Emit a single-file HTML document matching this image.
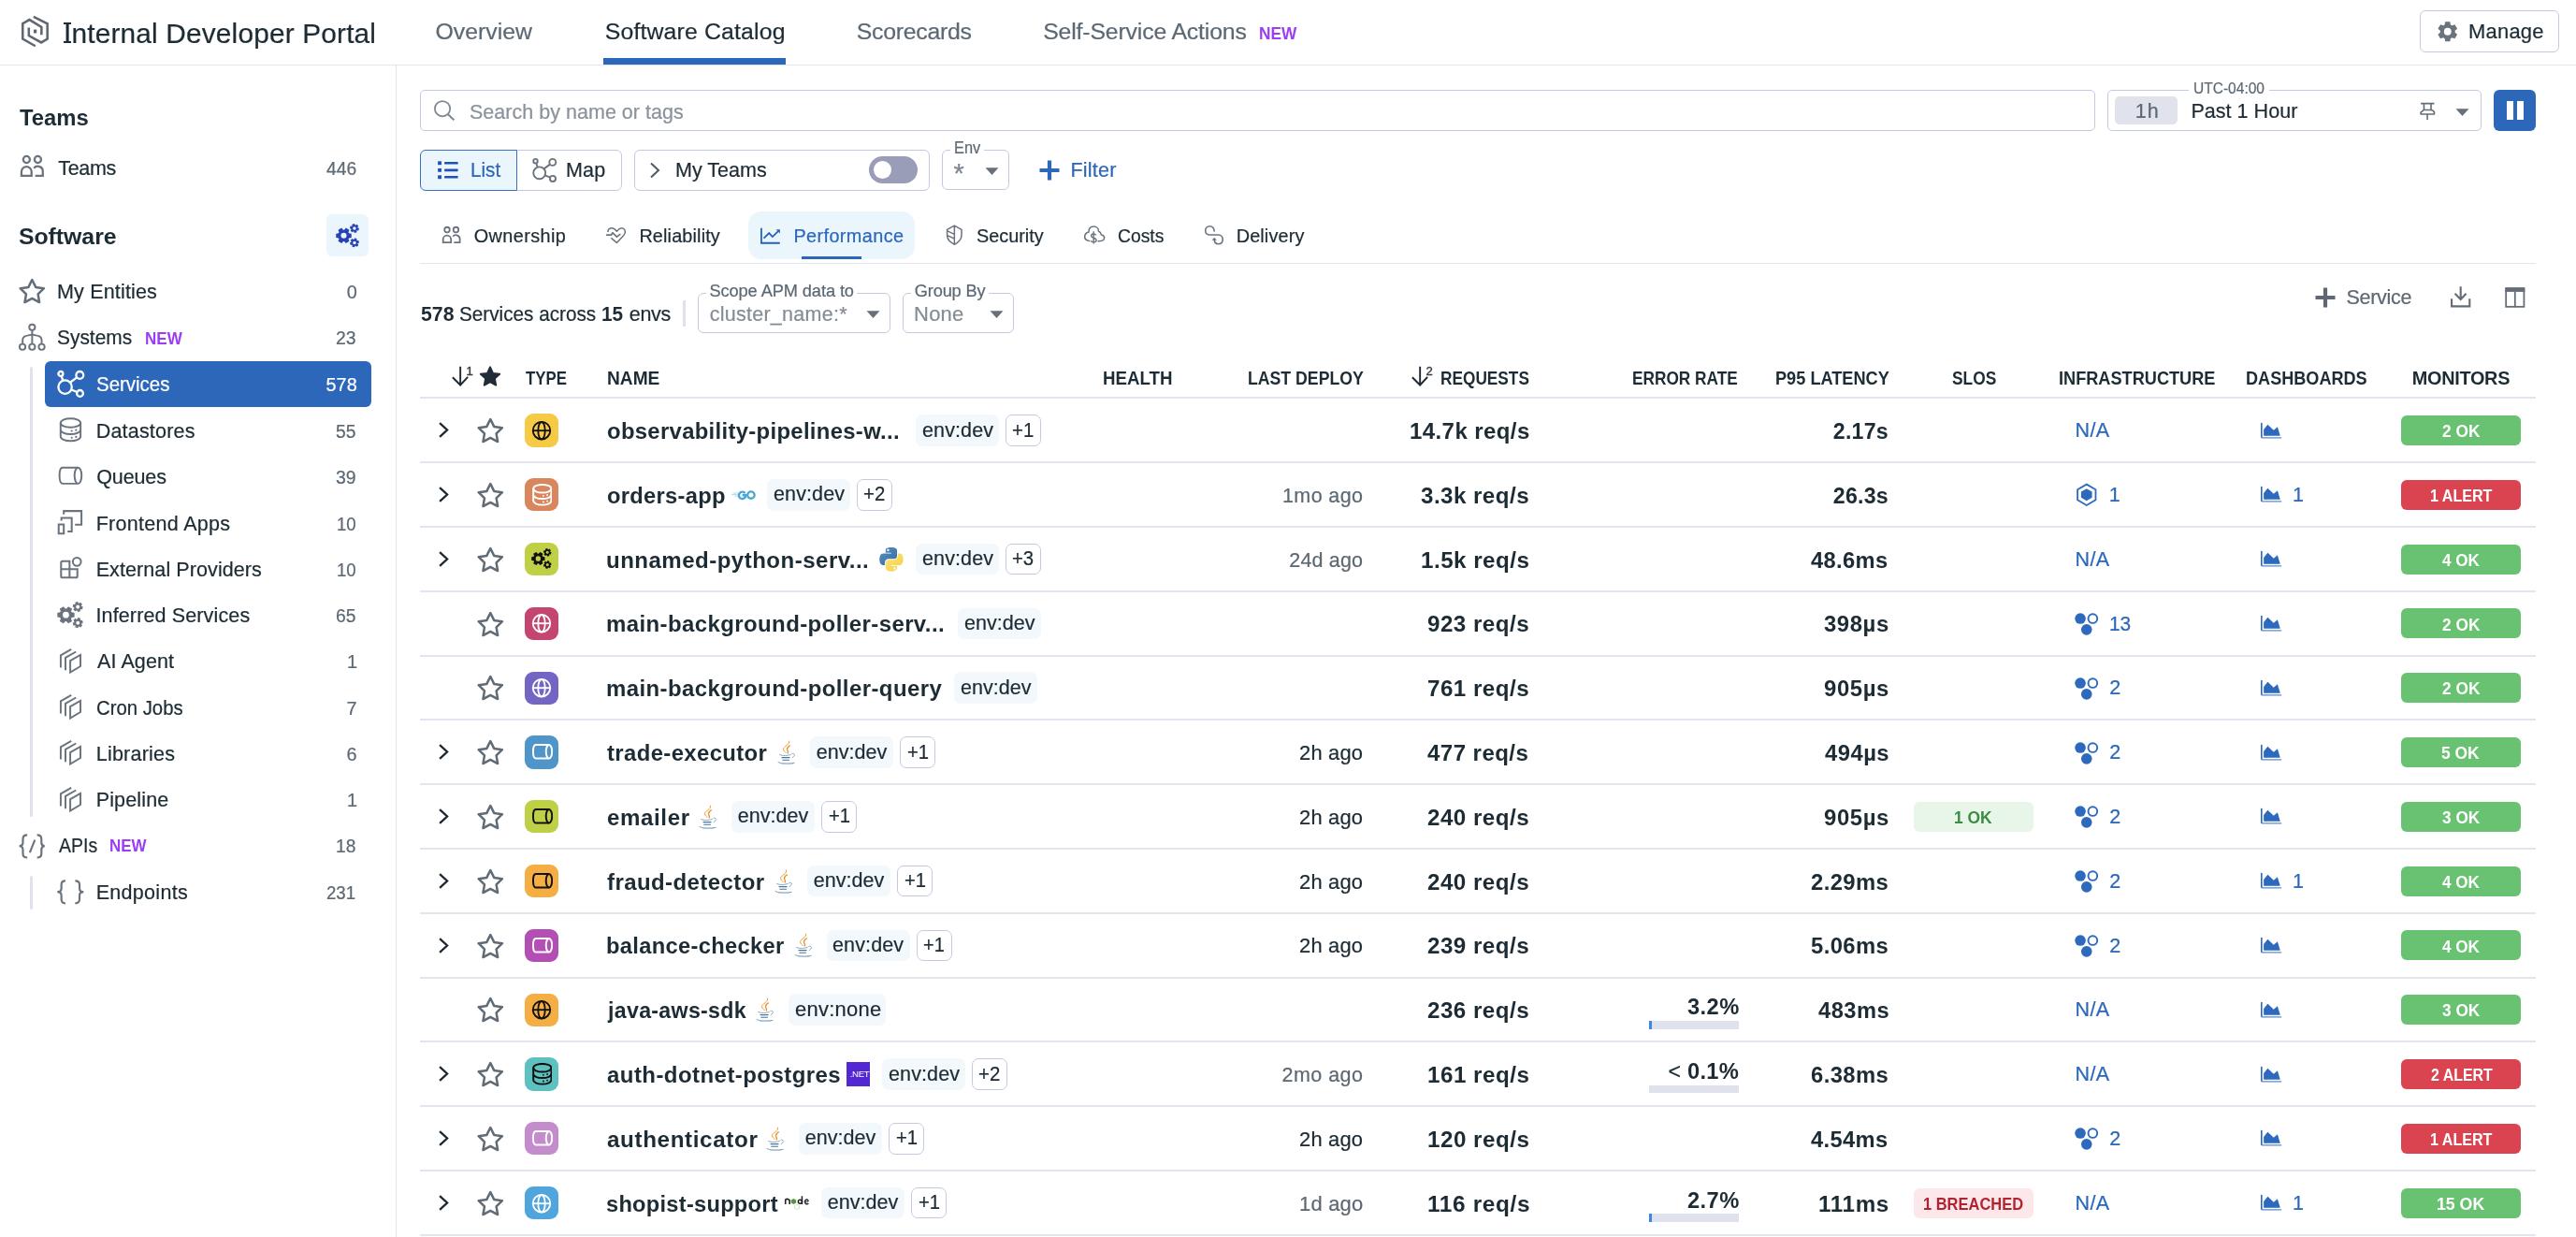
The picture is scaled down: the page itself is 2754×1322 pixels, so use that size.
<!DOCTYPE html>
<html><head><meta charset="utf-8"><title>Software Catalog</title>
<style>
html,body{margin:0;padding:0;background:#fff;}
body{width:2754px;height:1322px;position:relative;overflow:hidden;font-family:"Liberation Sans",sans-serif;}
#app{position:absolute;left:0;top:0;width:2754px;height:1322px;will-change:transform;}
#app>div,#app>span,#app>svg{position:absolute;box-sizing:border-box;}
#app>span{white-space:pre;}
</style></head><body><div id="app">
<div style="left:0px;top:69px;width:2754px;height:1px;background:#e2e4ee"></div>
<div style="left:423px;top:70px;width:1px;height:1252px;background:#e2e4ee"></div>
<svg style="left:14px;top:8px" width="60" height="54" viewBox="0 0 1374 1237"><path d="M500,228L840,398V770L690,858L385,690V495" fill="none" stroke="#5f6872" stroke-width="58" /><path d="M545,945L235,770V395L400,300L695,480V670" fill="none" stroke="#5f6872" stroke-width="58" /><path d="M540,540V628" fill="none" stroke="#5f6872" stroke-width="75" /></svg>
<div style="left:68.2px;top:24.3px;width:7.7px;height:2.0px;background:#1c2b34"></div>
<div style="left:68.2px;top:43.5px;width:7.7px;height:2.0px;background:#1c2b34"></div>
<div style="left:645px;top:62px;width:195px;height:7px;background:#2d67ba"></div>
<div style="left:2587px;top:11px;width:149px;height:45px;border:1px solid #c4c9df;border-radius:6px"></div>
<svg style="left:2606px;top:23px" width="21.5" height="21.5" viewBox="0 0 21.5 21.5"><path d="M7.56,3.46L8.13,0.32L13.37,0.32L13.94,3.46A7.96,7.96 0 0 1 15.47,4.34L18.47,3.27L21.09,7.81L18.66,9.87A7.96,7.96 0 0 1 18.66,11.63L21.09,13.69L18.47,18.23L15.47,17.16A7.96,7.96 0 0 1 13.94,18.04L13.37,21.18L8.13,21.18L7.56,18.04A7.96,7.96 0 0 1 6.03,17.16L3.03,18.23L0.41,13.69L2.84,11.63A7.96,7.96 0 0 1 2.84,9.87L0.41,7.81L3.03,3.27L6.03,4.34A7.96,7.96 0 0 1 7.56,3.46ZM14.67,10.75A3.92,3.92 0 1 0 6.83,10.75A3.92,3.92 0 1 0 14.67,10.75Z" fill="#6b747e" fill-rule="evenodd"/></svg>
<div style="left:449px;top:96px;width:1791px;height:44px;border:1px solid #c4c9df;border-radius:5px"></div>
<svg style="left:455px;top:100px" width="60" height="36" viewBox="0 0 2062 1237"><circle cx="620" cy="555" r="280" fill="none" stroke="#7f8791" stroke-width="60"/><path d="M825,765L1045,970" fill="none" stroke="#7f8791" stroke-width="70" /></svg>
<div style="left:2253px;top:96px;width:400px;height:44px;border:1px solid #c4c9df;border-radius:5px"></div>
<div style="left:2340px;top:88px;width:86px;height:14px;background:#fff"></div>
<div style="left:2261px;top:103px;width:67px;height:30px;background:#e0e2ec;border-radius:5px"></div>
<svg style="left:2575px;top:100px" width="75" height="36" viewBox="0 0 2576 1236"><path d="M450,365H945M565,365V600M825,365V600M565,600L450,690V755H945V690Q930,620 825,600ZM690,755V965" fill="none" stroke="#646d77" stroke-width="55" stroke-linejoin="round"/></svg>
<svg style="left:2624.5px;top:115.5px" width="15" height="8.5" viewBox="0 0 15 8.5"><path d="M0.5 0.3h14L7.5 8z" fill="#68717b"/></svg>
<div style="left:2666px;top:96px;width:45px;height:44px;background:#2d67ba;border-radius:6px"></div>
<div style="left:2680px;top:108px;width:6.5px;height:19.5px;background:#fff"></div>
<div style="left:2691px;top:108px;width:6.5px;height:19.5px;background:#fff"></div>
<div style="left:552px;top:160px;width:113px;height:44px;border:1px solid #c4c9df;border-radius:0 6px 6px 0"></div>
<div style="left:449px;top:160px;width:104px;height:44px;border:1px solid #3a6ec2;background:#eaf5fc;border-radius:6px 0 0 6px"></div>
<svg style="left:455px;top:160px" width="150" height="44" viewBox="0 0 2576 756"><rect x="225" y="212" width="66" height="66" fill="#2050b5"/><rect x="345" y="222" width="250" height="46" rx="10" fill="#2050b5"/><rect x="225" y="342" width="66" height="66" fill="#2050b5"/><rect x="345" y="352" width="250" height="46" rx="10" fill="#2050b5"/><rect x="225" y="470" width="66" height="66" fill="#2050b5"/><rect x="345" y="480" width="250" height="46" rx="10" fill="#2050b5"/></svg>
<svg style="left:567.5px;top:167.5px" width="28" height="28" viewBox="-1.12 -1.12 31.23 31.23"><g fill="none" stroke="#6b747e" stroke-width="2.12"><circle cx="8.6" cy="17.6" r="7.2"/><circle cx="3.9" cy="3.5" r="2.5"/><circle cx="24.3" cy="4.9" r="3.9"/><circle cx="24.5" cy="24.4" r="3.4"/><path d="M4.7,5.9L6.3,10.8M13.9,12.7L21.3,7.4M15.3,20.5L21.4,23"/></g></svg>
<div style="left:678px;top:160px;width:316px;height:44px;border:1px solid #c4c9df;border-radius:6px"></div>
<svg style="left:694px;top:173px" width="12" height="18" viewBox="0 0 12 18"><path d="M2 1.5l8 7.5-8 7.5" fill="none" stroke="#4f5963" stroke-width="2"/></svg>
<div style="left:929px;top:167px;width:52px;height:29px;background:#9a9db7;border-radius:15px"></div>
<div style="left:933.6px;top:171.7px;width:19.6px;height:19.6px;background:#fff;border-radius:50%"></div>
<div style="left:1007px;top:160px;width:72px;height:43px;border:1px solid #c4c9df;border-radius:6px"></div>
<div style="left:1016px;top:150px;width:36px;height:16px;background:#fff"></div>
<svg style="left:1052.5px;top:179px" width="15" height="8.5" viewBox="0 0 15 8.5"><path d="M0.5 0.3h14L7.5 8z" fill="#68717b"/></svg>
<svg style="left:1110.5px;top:170.5px" width="22" height="22" viewBox="0 0 22 22"><path d="M11 0.5v21M0.5 11h21" stroke="#2d67ba" stroke-width="4.2"/></svg>
<div style="left:449px;top:281px;width:2262px;height:1px;background:#e2e4ee"></div>
<div style="left:800px;top:226px;width:178px;height:51px;background:#eaf5fc;border-radius:14px"></div>
<div style="left:857px;top:274px;width:64px;height:3px;background:#2d67ba"></div>
<svg style="left:471.6px;top:240.9px" width="21.4" height="20.24" viewBox="-39.4 -39.4 843.9 798.9"><g fill="none" stroke="#6b747e" stroke-width="71.0"><circle cx="197" cy="140" r="110"/><circle cx="570" cy="140" r="110"/><path d="M28,680V545A167,167 0 0 1 362,545V680ZM440,425A167,167 0 0 1 735,545V680H485"/></g></svg>
<svg style="left:640px;top:232px" width="60" height="40" viewBox="0 0 1856 1237"><path d="M305,495C310,400 380,365 440,365C510,365 560,420 600,470C640,420 690,365 760,365C840,365 880,430 878,500C875,580 790,660 600,845L415,690" fill="none" stroke="#6b747e" stroke-width="48" stroke-linejoin="round"/><path d="M250,590H420L460,515L600,655L720,560" fill="none" stroke="#6b747e" stroke-width="52" stroke-linejoin="round"/></svg>
<svg style="left:800px;top:226px" width="60" height="50" viewBox="0 0 1484 1237"><path d="M345,440V835H835" fill="none" stroke="#2561b8" stroke-width="44" /><path d="M410,710L550,570L640,670L790,520" fill="none" stroke="#2561b8" stroke-width="44" /><path d="M735,478L838,478L838,580Z" fill="#2561b8"/></svg>
<svg style="left:1000px;top:230px" width="60" height="42" viewBox="0 0 1767 1237"><path d="M600,325L825,455V620C825,760 720,860 600,920C480,860 370,760 370,620V455ZM600,325V920M385,495L595,600M385,640L595,735" fill="none" stroke="#6b747e" stroke-width="44" stroke-linejoin="round"/></svg>
<svg style="left:1150px;top:230px" width="60" height="42" viewBox="0 0 1767 1237"><path d="M420,810C330,790 280,740 285,670C290,590 340,545 410,530C410,420 480,355 575,355C660,355 720,420 720,500C790,530 800,580 810,620C870,630 905,670 900,720C895,790 830,820 710,820" fill="none" stroke="#6b747e" stroke-width="46" stroke-linecap="round"/><path d="M565,510V900M640,630C620,600 590,590 560,590C510,590 490,620 490,650C490,700 540,705 570,715C620,730 650,745 650,790C650,830 610,850 565,850C520,850 490,830 475,800" fill="none" stroke="#6b747e" stroke-width="42" /></svg>
<svg style="left:1278px;top:230px" width="60" height="42" viewBox="0 0 1767 1237"><path d="M595,520C600,420 540,345 455,345C370,345 315,410 315,485C315,560 370,620 455,620H720C810,620 860,690 860,765C860,850 800,905 720,905C650,905 600,850 595,770" fill="none" stroke="#6b747e" stroke-width="48" /><path d="M515,790L595,700L675,790Z" fill="#6b747e"/></svg>
<div style="left:730px;top:321px;width:3px;height:28px;background:#dfe1ec"></div>
<div style="left:746px;top:313px;width:206px;height:43px;border:1px solid #c4c9df;border-radius:6px"></div>
<div style="left:755px;top:303px;width:161px;height:16px;background:#fff"></div>
<svg style="left:925.5px;top:332px" width="15" height="8.5" viewBox="0 0 15 8.5"><path d="M0.5 0.3h14L7.5 8z" fill="#68717b"/></svg>
<div style="left:965px;top:313px;width:119px;height:43px;border:1px solid #c4c9df;border-radius:6px"></div>
<div style="left:974px;top:303px;width:83px;height:16px;background:#fff"></div>
<svg style="left:1057.5px;top:332px" width="15" height="8.5" viewBox="0 0 15 8.5"><path d="M0.5 0.3h14L7.5 8z" fill="#68717b"/></svg>
<svg style="left:2475px;top:307px" width="22" height="22" viewBox="0 0 22 22"><path d="M11 0.5v21M0.5 11h21" stroke="#5f6872" stroke-width="4.2"/></svg>
<svg style="left:2610px;top:298px" width="100" height="40" viewBox="0 0 2576 1030"><path d="M285,545V755H780V545M533,210V560M375,405L533,565L685,405" fill="none" stroke="#646d77" stroke-width="55" /></svg>
<svg style="left:2610px;top:298px" width="100" height="40" viewBox="0 0 2576 1030"><rect x="1782" y="262" width="496" height="506" fill="none" stroke="#646d77" stroke-width="46"/><rect x="1760" y="240" width="540" height="118" fill="#646d77"/><path d="M2030,350V780" fill="none" stroke="#646d77" stroke-width="46" /></svg>
<svg style="left:476px;top:384px" width="34" height="36" viewBox="0 0 1168 1237"><path d="M555,270V940M270,660L555,945L830,650" fill="none" stroke="#1f2a35" stroke-width="66" /><text x="770" y="578" font-family="Liberation Sans" font-size="450" fill="#353e48" stroke="#353e48" stroke-width="14">1</text></svg>
<svg style="left:511px;top:388.5px" width="26" height="26" viewBox="511 388.5 26 26"><polygon points="524.00,391.90 526.99,398.38 534.08,399.22 528.84,404.07 530.23,411.08 524.00,407.59 517.77,411.08 519.16,404.07 513.92,399.22 521.01,398.38" fill="#212c38" stroke="#212c38" stroke-width="2" stroke-linejoin="round"/></svg>
<svg style="left:1502px;top:384px" width="34" height="36" viewBox="0 0 1168 1237"><path d="M555,270V940M270,660L555,945L830,650" fill="none" stroke="#1f2a35" stroke-width="66" /><text x="770" y="578" font-family="Liberation Sans" font-size="450" fill="#353e48" stroke="#353e48" stroke-width="14">2</text></svg>
<div style="left:449px;top:424px;width:2262px;height:2px;background:#e2e4ee"></div>
<svg style="left:21.1px;top:164.9px" width="26.75" height="25.26" viewBox="-30.9 -30.9 826.8 781.8"><g fill="none" stroke="#6b747e" stroke-width="71.1"><circle cx="197" cy="140" r="110"/><circle cx="570" cy="140" r="110"/><path d="M28,680V545A167,167 0 0 1 362,545V680ZM440,425A167,167 0 0 1 735,545V680H485"/></g></svg>
<div style="left:349px;top:229px;width:45px;height:45px;background:#eaf5fc;border-radius:6px"></div>
<svg style="left:359px;top:239px" width="25" height="25.50" viewBox="0 0 25 25.50"><path d="M14.06,10.22L16.73,10.68L16.73,14.92L14.06,15.38A6.12,6.12 0 0 1 13.51,16.32L14.45,18.87L10.78,20.99L9.05,18.90A6.12,6.12 0 0 1 7.95,18.90L6.22,20.99L2.55,18.87L3.49,16.32A6.12,6.12 0 0 1 2.94,15.38L0.27,14.92L0.27,10.68L2.94,10.22A6.12,6.12 0 0 1 3.49,9.28L2.55,6.73L6.22,4.61L7.95,6.70A6.12,6.12 0 0 1 9.05,6.70L10.78,4.61L14.45,6.73L13.51,9.28A6.12,6.12 0 0 1 14.06,10.22ZM11.55,12.80A3.05,3.05 0 1 0 5.45,12.80A3.05,3.05 0 1 0 11.55,12.80ZM23.41,4.30L24.92,5.00L24.26,7.49L22.60,7.33A3.55,3.55 0 0 1 22.27,7.67L22.43,9.33L19.94,10.00L19.24,8.48A3.55,3.55 0 0 1 18.79,8.36L17.43,9.33L15.60,7.51L16.57,6.15A3.55,3.55 0 0 1 16.44,5.70L14.93,5.00L15.59,2.51L17.25,2.67A3.55,3.55 0 0 1 17.58,2.33L17.42,0.67L19.91,0.00L20.61,1.52A3.55,3.55 0 0 1 21.06,1.64L22.42,0.67L24.25,2.49L23.28,3.85A3.55,3.55 0 0 1 23.41,4.30ZM21.68,5.00A1.75,1.75 0 1 0 18.18,5.00A1.75,1.75 0 1 0 21.68,5.00ZM22.67,18.04L24.34,17.89L25.00,20.38L23.48,21.07A3.55,3.55 0 0 1 23.36,21.52L24.32,22.89L22.50,24.71L21.14,23.74A3.55,3.55 0 0 1 20.68,23.86L19.98,25.37L17.50,24.70L17.66,23.04A3.55,3.55 0 0 1 17.33,22.71L15.66,22.86L15.00,20.37L16.52,19.68A3.55,3.55 0 0 1 16.64,19.23L15.68,17.86L17.50,16.04L18.86,17.01A3.55,3.55 0 0 1 19.32,16.89L20.02,15.38L22.50,16.05L22.34,17.71A3.55,3.55 0 0 1 22.67,18.04ZM21.75,20.38A1.75,1.75 0 1 0 18.25,20.38A1.75,1.75 0 1 0 21.75,20.38Z" fill="#2742b3" fill-rule="evenodd"/></svg>
<svg style="left:17.80px;top:296.30px" width="32.60" height="32.60" viewBox="17.80 296.30 32.60 32.60"><polygon points="34.10,299.30 38.01,307.22 46.75,308.49 40.42,314.65 41.92,323.36 34.10,319.25 26.28,323.36 27.78,314.65 21.45,308.49 30.19,307.22" fill="none" stroke="#646e78" stroke-width="2.5" stroke-linejoin="round"/></svg>
<svg style="left:14px;top:290px" width="44" height="90" viewBox="0 0 605 1237"><g fill="none" stroke="#6b747e" stroke-width="27"><circle cx="280" cy="822" r="43"/><circle cx="138" cy="1110" r="43"/><circle cx="280" cy="1110" r="43"/><circle cx="420" cy="1110" r="43"/><path d="M280,865V1067M280,925C230,950 140,930 140,1010V1067M280,925C330,950 420,930 420,1010V1067"/></g></svg>
<div style="left:32px;top:392px;width:3px;height:481px;background:#dfe2ec;border-radius:2px"></div>
<div style="left:32px;top:935.5px;width:3px;height:36.5px;background:#dfe2ec;border-radius:2px"></div>
<div style="left:48px;top:386px;width:349px;height:49px;background:#2d67ba;border-radius:6px"></div>
<svg style="left:59.5px;top:395px" width="31" height="31" viewBox="-1.00 -1.00 31.00 31.00"><g fill="none" stroke="#fff" stroke-width="2.30"><circle cx="8.6" cy="17.6" r="7.2"/><circle cx="3.9" cy="3.5" r="2.5"/><circle cx="24.3" cy="4.9" r="3.9"/><circle cx="24.5" cy="24.4" r="3.4"/><path d="M4.7,5.9L6.3,10.8M13.9,12.7L21.3,7.4M15.3,20.5L21.4,23"/></g></svg>
<svg style="left:54px;top:439.85px" width="44" height="45" viewBox="0 0 605 619"><g fill="none" stroke="#6b747e" stroke-width="27"><ellipse cx="295" cy="165" rx="147" ry="66"/><path d="M148,165V365C148,400 210,431 295,431C380,431 442,400 442,365V165M148,265C148,300 210,331 295,331C380,331 442,300 442,265"/></g><circle cx="312" cy="282" r="15" fill="#6b747e"/><circle cx="376" cy="270" r="15" fill="#6b747e"/><circle cx="312" cy="382" r="15" fill="#6b747e"/><circle cx="376" cy="370" r="15" fill="#6b747e"/></svg>
<svg style="left:54px;top:483.93000000000006px" width="44" height="45" viewBox="0 0 605 619"><g fill="none" stroke="#6b747e" stroke-width="27" transform="translate(0,-618)"><path d="M405,835H178C150,835 132,880 132,952C132,1025 150,1070 178,1070H405"/><ellipse cx="405" cy="952" rx="52" ry="118"/></g></svg>
<svg style="left:54px;top:537.8100000000001px" width="44" height="45" viewBox="0 0 605 619"><path d="M195,160V112H455V312H360M160,255V212H312V412H250M120,310H195V445H120Z" fill="none" stroke="#6b747e" stroke-width="28" /></svg>
<svg style="left:54px;top:582.84px" width="44" height="45" viewBox="0 0 605 619"><g transform="translate(0,-619)"><path d="M155,872Q155,850 177,850H280V965H395V1068Q395,1090 373,1090H177Q155,1090 155,1068ZM155,965H280M280,965V1090" fill="none" stroke="#6b747e" stroke-width="28" /><circle cx="388" cy="858" r="60" fill="none" stroke="#6b747e" stroke-width="28"/></g></svg>
<svg style="left:61px;top:642.9700000000001px" width="27.8" height="28.36" viewBox="0 0 27.8 28.36"><path d="M15.63,11.37L18.61,11.88L18.61,16.59L15.63,17.10A6.81,6.81 0 0 1 15.02,18.15L16.07,20.99L11.99,23.34L10.06,21.02A6.81,6.81 0 0 1 8.84,21.02L6.91,23.34L2.84,20.99L3.88,18.15A6.81,6.81 0 0 1 3.27,17.10L0.30,16.59L0.30,11.88L3.27,11.37A6.81,6.81 0 0 1 3.88,10.31L2.84,7.48L6.91,5.13L8.84,7.45A6.81,6.81 0 0 1 10.06,7.45L11.99,5.13L16.07,7.48L15.02,10.31A6.81,6.81 0 0 1 15.63,11.37ZM12.84,14.23A3.39,3.39 0 1 0 6.06,14.23A3.39,3.39 0 1 0 12.84,14.23ZM26.03,4.79L27.72,5.56L26.98,8.33L25.13,8.16A3.95,3.95 0 0 1 24.76,8.53L24.94,10.37L22.17,11.12L21.40,9.43A3.95,3.95 0 0 1 20.89,9.30L19.38,10.38L17.35,8.35L18.42,6.84A3.95,3.95 0 0 1 18.29,6.33L16.60,5.56L17.33,2.79L19.18,2.96A3.95,3.95 0 0 1 19.55,2.59L19.37,0.75L22.14,0.00L22.92,1.69A3.95,3.95 0 0 1 23.42,1.82L24.93,0.74L26.96,2.77L25.89,4.28A3.95,3.95 0 0 1 26.03,4.79ZM24.10,5.56A1.95,1.95 0 1 0 20.21,5.56A1.95,1.95 0 1 0 24.10,5.56ZM25.21,20.06L27.06,19.89L27.80,22.66L26.11,23.43A3.95,3.95 0 0 1 25.97,23.94L27.05,25.45L25.02,27.47L23.50,26.40A3.95,3.95 0 0 1 23.00,26.53L22.22,28.22L19.46,27.47L19.63,25.62A3.95,3.95 0 0 1 19.27,25.25L17.42,25.42L16.68,22.65L18.37,21.88A3.95,3.95 0 0 1 18.51,21.38L17.43,19.86L19.46,17.84L20.98,18.92A3.95,3.95 0 0 1 21.48,18.78L22.26,17.10L25.02,17.84L24.85,19.69A3.95,3.95 0 0 1 25.21,20.06ZM24.19,22.66A1.95,1.95 0 1 0 20.29,22.66A1.95,1.95 0 1 0 24.19,22.66Z" fill="#6b747e" fill-rule="evenodd"/></svg>
<svg style="left:54px;top:680.8000000000001px" width="44" height="45" viewBox="0 0 605 619"><g transform="translate(0,-619)"><path d="M290,965L440,880V1045L290,1135Z" fill="none" stroke="#6b747e" stroke-width="27" /><path d="M375,832L220,920V1105M305,797L150,885V1065" fill="none" stroke="#6b747e" stroke-width="27" /></g></svg>
<svg style="left:54px;top:730.1300000000001px" width="44" height="45" viewBox="0 0 605 619"><g transform="translate(0,-619)"><path d="M290,965L440,880V1045L290,1135Z" fill="none" stroke="#6b747e" stroke-width="27" /><path d="M375,832L220,920V1105M305,797L150,885V1065" fill="none" stroke="#6b747e" stroke-width="27" /></g></svg>
<svg style="left:54px;top:779.4600000000002px" width="44" height="45" viewBox="0 0 605 619"><g transform="translate(0,-619)"><path d="M290,965L440,880V1045L290,1135Z" fill="none" stroke="#6b747e" stroke-width="27" /><path d="M375,832L220,920V1105M305,797L150,885V1065" fill="none" stroke="#6b747e" stroke-width="27" /></g></svg>
<svg style="left:54px;top:828.7900000000001px" width="44" height="45" viewBox="0 0 605 619"><g transform="translate(0,-619)"><path d="M290,965L440,880V1045L290,1135Z" fill="none" stroke="#6b747e" stroke-width="27" /><path d="M375,832L220,920V1105M305,797L150,885V1065" fill="none" stroke="#6b747e" stroke-width="27" /></g></svg>
<svg style="left:14px;top:880px" width="84" height="96" viewBox="0 0 1082 1237"><path d="M195,160Q135,160 135,215V265Q135,310 85,312Q135,315 135,360V415Q135,470 195,470M330,160Q390,160 390,215V265Q390,310 435,312Q390,315 390,360V415Q390,470 330,470M300,228L230,400" fill="none" stroke="#6b747e" stroke-width="28" /></svg>
<svg style="left:14px;top:880px" width="84" height="96" viewBox="0 0 1082 1237"><path d="M720,790Q665,790 665,845V895Q665,940 610,943Q665,946 665,990V1045Q665,1100 720,1100M855,790Q915,790 915,845V895Q915,940 970,943Q915,946 915,990V1045Q915,1100 855,1100" fill="none" stroke="#6b747e" stroke-width="28" /></svg>
<div style="left:449px;top:493px;width:2262px;height:2px;background:#e2e4ee"></div>
<svg style="left:468px;top:450.4px" width="13" height="19" viewBox="0 0 13 19"><path d="M2.1 2.2l8 7.3-8 7.3" fill="none" stroke="#1c2731" stroke-width="2.3"/></svg>
<svg style="left:507.95px;top:445.25px" width="32.60" height="32.60" viewBox="507.95 445.25 32.60 32.60"><polygon points="524.25,448.25 528.16,456.17 536.90,457.44 530.57,463.60 532.07,472.31 524.25,468.20 516.43,472.31 517.93,463.60 511.60,457.44 520.34,456.17" fill="none" stroke="#616b75" stroke-width="2.5" stroke-linejoin="round"/></svg>
<div style="left:561px;top:442.3px;width:36px;height:35.4px;background:#f7ca45;border-radius:9px"></div>
<svg style="left:561px;top:442.0px" width="36" height="36" viewBox="0 0 36 36"><g fill="none" stroke="#111" stroke-width="1.85"><circle cx="18" cy="18.2" r="9.25"/><ellipse cx="18" cy="18.2" rx="3.7" ry="9.25"/><path d="M8.75,18.2H27.25"/></g></svg>
<div style="left:979.4px;top:443.2px;width:89px;height:33.6px;background:#f3f8fc;border-radius:7px"></div>
<div style="left:1075.4px;top:443.2px;width:38px;height:33.6px;border:1px solid #c4c9df;border-radius:7px"></div>
<svg style="left:2405px;top:435.60px" width="70" height="48" viewBox="0 0 1804 1237"><path d="M330,410V820" fill="none" stroke="#2d69bc" stroke-width="42" /><path d="M330,822H880" fill="none" stroke="#4d80c6" stroke-width="30" /><polygon points="390,765 390,595 500,455 665,610 770,520 845,765" fill="#2d69bc"/></svg>
<div style="left:2567px;top:444.0px;width:128px;height:32px;background:#69c271;border-radius:6px"></div>
<div style="left:449px;top:562px;width:2262px;height:2px;background:#e2e4ee"></div>
<svg style="left:468px;top:519.2px" width="13" height="19" viewBox="0 0 13 19"><path d="M2.1 2.2l8 7.3-8 7.3" fill="none" stroke="#1c2731" stroke-width="2.3"/></svg>
<svg style="left:507.95px;top:514.05px" width="32.60" height="32.60" viewBox="507.95 514.05 32.60 32.60"><polygon points="524.25,517.05 528.16,524.97 536.90,526.24 530.57,532.40 532.07,541.11 524.25,537.00 516.43,541.11 517.93,532.40 511.60,526.24 520.34,524.97" fill="none" stroke="#616b75" stroke-width="2.5" stroke-linejoin="round"/></svg>
<div style="left:561px;top:511.09999999999997px;width:36px;height:35.4px;background:#d9865e;border-radius:9px"></div>
<svg style="left:568.6px;top:517.1px" width="21.6" height="24.5" viewBox="130 85 330 375"><g fill="none" stroke="#fff" stroke-width="30"><ellipse cx="295" cy="165" rx="147" ry="66"/><path d="M148,165V365C148,400 210,431 295,431C380,431 442,400 442,365V165M148,265C148,300 210,331 295,331C380,331 442,300 442,265"/></g><circle cx="312" cy="282" r="15" fill="#fff"/><circle cx="376" cy="270" r="15" fill="#fff"/><circle cx="312" cy="382" r="15" fill="#fff"/><circle cx="376" cy="370" r="15" fill="#fff"/></svg>
<svg style="left:780.9px;top:520.8px" width="30" height="16" viewBox="0 0 30 16"><g fill="none" stroke="#4aa9d4" stroke-width="2.4"><path d="M15.6,6.2A3.7,3.7 0 1 0 16.3,8.3H12.6"/><circle cx="21.9" cy="8.1" r="3.7"/></g><path d="M2.5,6H8M1,7.6H7.5M4.3,9.2H7.8" stroke="#a9d7ec" stroke-width="0.9"/></svg>
<div style="left:820.4px;top:511.99999999999994px;width:89px;height:33.6px;background:#f3f8fc;border-radius:7px"></div>
<div style="left:916.4px;top:511.99999999999994px;width:38px;height:33.6px;border:1px solid #c4c9df;border-radius:7px"></div>
<svg style="left:2210px;top:504.79999999999995px" width="60" height="48" viewBox="0 0 1546 1237"><polygon points="535,325 785,468 785,752 535,900 285,752 285,468" fill="none" stroke="#2d69bc" stroke-width="46"/><polygon points="535,445 685,530 685,690 535,780 385,690 385,530" fill="#2d69bc"/></svg>
<svg style="left:2405px;top:504.40px" width="70" height="48" viewBox="0 0 1804 1237"><path d="M330,410V820" fill="none" stroke="#2d69bc" stroke-width="42" /><path d="M330,822H880" fill="none" stroke="#4d80c6" stroke-width="30" /><polygon points="390,765 390,595 500,455 665,610 770,520 845,765" fill="#2d69bc"/></svg>
<div style="left:2567px;top:512.8px;width:128px;height:32px;background:#da4450;border-radius:6px"></div>
<div style="left:449px;top:631px;width:2262px;height:2px;background:#e2e4ee"></div>
<svg style="left:468px;top:588.0px" width="13" height="19" viewBox="0 0 13 19"><path d="M2.1 2.2l8 7.3-8 7.3" fill="none" stroke="#1c2731" stroke-width="2.3"/></svg>
<svg style="left:507.95px;top:582.85px" width="32.60" height="32.60" viewBox="507.95 582.85 32.60 32.60"><polygon points="524.25,585.85 528.16,593.77 536.90,595.04 530.57,601.20 532.07,609.91 524.25,605.80 516.43,609.91 517.93,601.20 511.60,595.04 520.34,593.77" fill="none" stroke="#616b75" stroke-width="2.5" stroke-linejoin="round"/></svg>
<div style="left:561px;top:579.9px;width:36px;height:35.4px;background:#bfd046;border-radius:9px"></div>
<svg style="left:568px;top:586.0px" width="21.6" height="22.03" viewBox="0 0 21.6 22.03"><path d="M12.15,8.83L14.46,9.23L14.46,12.89L12.15,13.28A5.29,5.29 0 0 1 11.67,14.10L12.48,16.30L9.32,18.13L7.82,16.33A5.29,5.29 0 0 1 6.87,16.33L5.37,18.13L2.20,16.30L3.02,14.10A5.29,5.29 0 0 1 2.54,13.28L0.23,12.89L0.23,9.23L2.54,8.83A5.29,5.29 0 0 1 3.02,8.01L2.20,5.81L5.37,3.99L6.87,5.79A5.29,5.29 0 0 1 7.82,5.79L9.32,3.99L12.48,5.81L11.67,8.01A5.29,5.29 0 0 1 12.15,8.83ZM9.98,11.06A2.64,2.64 0 1 0 4.71,11.06A2.64,2.64 0 1 0 9.98,11.06ZM20.22,3.72L21.54,4.32L20.96,6.47L19.53,6.34A3.07,3.07 0 0 1 19.24,6.62L19.38,8.06L17.23,8.64L16.62,7.33A3.07,3.07 0 0 1 16.23,7.23L15.06,8.06L13.48,6.49L14.31,5.31A3.07,3.07 0 0 1 14.21,4.92L12.90,4.32L13.47,2.17L14.90,2.30A3.07,3.07 0 0 1 15.19,2.02L15.05,0.58L17.20,0.00L17.81,1.31A3.07,3.07 0 0 1 18.20,1.41L19.37,0.58L20.95,2.15L20.12,3.33A3.07,3.07 0 0 1 20.22,3.72ZM18.73,4.32A1.51,1.51 0 1 0 15.70,4.32A1.51,1.51 0 1 0 18.73,4.32ZM19.59,15.59L21.03,15.46L21.60,17.61L20.29,18.21A3.07,3.07 0 0 1 20.18,18.60L21.01,19.78L19.44,21.35L18.26,20.51A3.07,3.07 0 0 1 17.87,20.61L17.27,21.92L15.12,21.34L15.26,19.91A3.07,3.07 0 0 1 14.97,19.62L13.53,19.75L12.96,17.60L14.27,17.00A3.07,3.07 0 0 1 14.38,16.61L13.55,15.43L15.12,13.86L16.30,14.70A3.07,3.07 0 0 1 16.69,14.59L17.29,13.28L19.44,13.86L19.30,15.30A3.07,3.07 0 0 1 19.59,15.59ZM18.79,17.60A1.51,1.51 0 1 0 15.77,17.60A1.51,1.51 0 1 0 18.79,17.60Z" fill="#111" fill-rule="evenodd"/></svg>
<svg style="left:940.0px;top:585.1px" width="25.8" height="25.8" viewBox="0 0 111 113"><defs><linearGradient id="pyb" x1="0" y1="0" x2="1" y2="1"><stop offset="0" stop-color="#5a8fc4"/><stop offset="1" stop-color="#356b9e"/></linearGradient><linearGradient id="pyy" x1="0" y1="0" x2="1" y2="1"><stop offset="0" stop-color="#fbe57c"/><stop offset="1" stop-color="#f6cf3e"/></linearGradient></defs><path fill="url(#pyb)" d="M54.9,0C50.3,0 46,.4 42.1,1.1C30.8,3.1 28.7,7.3 28.7,15V25.3H55.5V28.7H28.7H18.6C10.8,28.7 4,33.3 1.9,42.3C-.6,52.5-.7,58.8 1.9,69.5C3.8,77.4 8.3,83.1 16.1,83.1H25.4V70.8C25.4,62 33,54.2 42.1,54.2H68.9C76.3,54.2 82.3,48.1 82.3,40.6V15C82.3,7.8 76.2,2.3 68.9,1.1C64.3,.3 59.5,0 54.9,0ZM40.4,8.2C43.2,8.2 45.5,10.5 45.5,13.3C45.5,16.2 43.2,18.4 40.4,18.4C37.6,18.4 35.4,16.2 35.4,13.3C35.4,10.5 37.6,8.2 40.4,8.2Z"/><path fill="url(#pyy)" d="M85.6,28.7V40.6C85.6,49.8 77.8,57.6 68.9,57.6H42.1C34.8,57.6 28.7,63.8 28.7,71.2V96.7C28.7,104 35,108.3 42.1,110.3C50.6,112.8 58.7,113.3 68.9,110.3C75.6,108.4 82.3,104.5 82.3,96.7V86.5H55.5V83.1H82.3H95.7C103.5,83.1 106.4,77.7 109.1,69.5C111.9,61.1 111.8,53 109.1,42.3C107.2,34.5 103.5,28.7 95.7,28.7ZM70.6,93.3C73.4,93.3 75.6,95.6 75.6,98.4C75.6,101.2 73.4,103.5 70.6,103.5C67.8,103.5 65.5,101.2 65.5,98.4C65.5,95.6 67.8,93.3 70.6,93.3Z"/></svg>
<div style="left:979.4px;top:580.8000000000001px;width:89px;height:33.6px;background:#f3f8fc;border-radius:7px"></div>
<div style="left:1075.4px;top:580.8000000000001px;width:38px;height:33.6px;border:1px solid #c4c9df;border-radius:7px"></div>
<svg style="left:2405px;top:573.20px" width="70" height="48" viewBox="0 0 1804 1237"><path d="M330,410V820" fill="none" stroke="#2d69bc" stroke-width="42" /><path d="M330,822H880" fill="none" stroke="#4d80c6" stroke-width="30" /><polygon points="390,765 390,595 500,455 665,610 770,520 845,765" fill="#2d69bc"/></svg>
<div style="left:2567px;top:581.6px;width:128px;height:32px;background:#69c271;border-radius:6px"></div>
<div style="left:449px;top:700px;width:2262px;height:2px;background:#e2e4ee"></div>
<svg style="left:507.95px;top:651.65px" width="32.60" height="32.60" viewBox="507.95 651.65 32.60 32.60"><polygon points="524.25,654.65 528.16,662.57 536.90,663.84 530.57,670.00 532.07,678.71 524.25,674.60 516.43,678.71 517.93,670.00 511.60,663.84 520.34,662.57" fill="none" stroke="#616b75" stroke-width="2.5" stroke-linejoin="round"/></svg>
<div style="left:561px;top:648.6999999999999px;width:36px;height:35.4px;background:#c4456f;border-radius:9px"></div>
<svg style="left:561px;top:648.4px" width="36" height="36" viewBox="0 0 36 36"><g fill="none" stroke="#fff" stroke-width="1.85"><circle cx="18" cy="18.2" r="9.25"/><ellipse cx="18" cy="18.2" rx="3.7" ry="9.25"/><path d="M8.75,18.2H27.25"/></g></svg>
<div style="left:1024.2px;top:649.6px;width:89px;height:33.6px;background:#f3f8fc;border-radius:7px"></div>
<svg style="left:2210px;top:642.0px" width="60" height="48" viewBox="0 0 1546 1237"><circle cx="362" cy="490" r="150" fill="#2d69bc"/><circle cx="535" cy="795" r="150" fill="#2d69bc"/><circle cx="705" cy="490" r="125" fill="none" stroke="#2d69bc" stroke-width="50"/></svg>
<svg style="left:2405px;top:642.00px" width="70" height="48" viewBox="0 0 1804 1237"><path d="M330,410V820" fill="none" stroke="#2d69bc" stroke-width="42" /><path d="M330,822H880" fill="none" stroke="#4d80c6" stroke-width="30" /><polygon points="390,765 390,595 500,455 665,610 770,520 845,765" fill="#2d69bc"/></svg>
<div style="left:2567px;top:650.4px;width:128px;height:32px;background:#69c271;border-radius:6px"></div>
<div style="left:449px;top:768px;width:2262px;height:2px;background:#e2e4ee"></div>
<svg style="left:507.95px;top:720.45px" width="32.60" height="32.60" viewBox="507.95 720.45 32.60 32.60"><polygon points="524.25,723.45 528.16,731.37 536.90,732.64 530.57,738.80 532.07,747.51 524.25,743.40 516.43,747.51 517.93,738.80 511.60,732.64 520.34,731.37" fill="none" stroke="#616b75" stroke-width="2.5" stroke-linejoin="round"/></svg>
<div style="left:561px;top:717.5px;width:36px;height:35.4px;background:#7265c4;border-radius:9px"></div>
<svg style="left:561px;top:717.2px" width="36" height="36" viewBox="0 0 36 36"><g fill="none" stroke="#fff" stroke-width="1.85"><circle cx="18" cy="18.2" r="9.25"/><ellipse cx="18" cy="18.2" rx="3.7" ry="9.25"/><path d="M8.75,18.2H27.25"/></g></svg>
<div style="left:1020.2px;top:718.4000000000001px;width:89px;height:33.6px;background:#f3f8fc;border-radius:7px"></div>
<svg style="left:2210px;top:710.8000000000001px" width="60" height="48" viewBox="0 0 1546 1237"><circle cx="362" cy="490" r="150" fill="#2d69bc"/><circle cx="535" cy="795" r="150" fill="#2d69bc"/><circle cx="705" cy="490" r="125" fill="none" stroke="#2d69bc" stroke-width="50"/></svg>
<svg style="left:2405px;top:710.80px" width="70" height="48" viewBox="0 0 1804 1237"><path d="M330,410V820" fill="none" stroke="#2d69bc" stroke-width="42" /><path d="M330,822H880" fill="none" stroke="#4d80c6" stroke-width="30" /><polygon points="390,765 390,595 500,455 665,610 770,520 845,765" fill="#2d69bc"/></svg>
<div style="left:2567px;top:719.2px;width:128px;height:32px;background:#69c271;border-radius:6px"></div>
<div style="left:449px;top:837px;width:2262px;height:2px;background:#e2e4ee"></div>
<svg style="left:468px;top:794.4px" width="13" height="19" viewBox="0 0 13 19"><path d="M2.1 2.2l8 7.3-8 7.3" fill="none" stroke="#1c2731" stroke-width="2.3"/></svg>
<svg style="left:507.95px;top:789.25px" width="32.60" height="32.60" viewBox="507.95 789.25 32.60 32.60"><polygon points="524.25,792.25 528.16,800.17 536.90,801.44 530.57,807.60 532.07,816.31 524.25,812.20 516.43,816.31 517.93,807.60 511.60,801.44 520.34,800.17" fill="none" stroke="#616b75" stroke-width="2.5" stroke-linejoin="round"/></svg>
<div style="left:561px;top:786.3px;width:36px;height:35.4px;background:#4f95c9;border-radius:9px"></div>
<svg style="left:567.5px;top:794.2px" width="23" height="19.6" viewBox="100 185 370 315"><g fill="none" stroke="#fff" stroke-width="32" transform="translate(0,-618)"><path d="M405,835H178C150,835 132,880 132,952C132,1025 150,1070 178,1070H405"/><ellipse cx="405" cy="952" rx="52" ry="118"/></g></svg>
<svg style="left:815.0px;top:780.0px" width="60" height="48" viewBox="0 0 1546 1237"><path d="M735,300C775,400 580,460 580,530C580,580 640,615 655,640" fill="none" stroke="#e9952c" stroke-width="24" /><path d="M765,430C700,470 668,510 690,560C710,600 722,620 700,652" fill="none" stroke="#e8912a" stroke-width="36" /><path d="M470,682C560,722 700,712 790,680M810,655C900,640 920,700 820,770" fill="none" stroke="#6a8fae" stroke-width="20" /><path d="M530,762H760M550,832H745" fill="none" stroke="#4a759b" stroke-width="30" /><path d="M430,885C500,930 700,940 890,910" fill="none" stroke="#6a8fae" stroke-width="22" /><path d="M520,942H840" fill="none" stroke="#9db7cc" stroke-width="16" /></svg>
<div style="left:866px;top:787.2px;width:89px;height:33.6px;background:#f3f8fc;border-radius:7px"></div>
<div style="left:962px;top:787.2px;width:38px;height:33.6px;border:1px solid #c4c9df;border-radius:7px"></div>
<svg style="left:2210px;top:779.6px" width="60" height="48" viewBox="0 0 1546 1237"><circle cx="362" cy="490" r="150" fill="#2d69bc"/><circle cx="535" cy="795" r="150" fill="#2d69bc"/><circle cx="705" cy="490" r="125" fill="none" stroke="#2d69bc" stroke-width="50"/></svg>
<svg style="left:2405px;top:779.60px" width="70" height="48" viewBox="0 0 1804 1237"><path d="M330,410V820" fill="none" stroke="#2d69bc" stroke-width="42" /><path d="M330,822H880" fill="none" stroke="#4d80c6" stroke-width="30" /><polygon points="390,765 390,595 500,455 665,610 770,520 845,765" fill="#2d69bc"/></svg>
<div style="left:2567px;top:788.0px;width:128px;height:32px;background:#69c271;border-radius:6px"></div>
<div style="left:449px;top:906px;width:2262px;height:2px;background:#e2e4ee"></div>
<svg style="left:468px;top:863.2px" width="13" height="19" viewBox="0 0 13 19"><path d="M2.1 2.2l8 7.3-8 7.3" fill="none" stroke="#1c2731" stroke-width="2.3"/></svg>
<svg style="left:507.95px;top:858.05px" width="32.60" height="32.60" viewBox="507.95 858.05 32.60 32.60"><polygon points="524.25,861.05 528.16,868.97 536.90,870.24 530.57,876.40 532.07,885.11 524.25,881.00 516.43,885.11 517.93,876.40 511.60,870.24 520.34,868.97" fill="none" stroke="#616b75" stroke-width="2.5" stroke-linejoin="round"/></svg>
<div style="left:561px;top:855.0999999999999px;width:36px;height:35.4px;background:#bfd046;border-radius:9px"></div>
<svg style="left:567.5px;top:863.0px" width="23" height="19.6" viewBox="100 185 370 315"><g fill="none" stroke="#111" stroke-width="32" transform="translate(0,-618)"><path d="M405,835H178C150,835 132,880 132,952C132,1025 150,1070 178,1070H405"/><ellipse cx="405" cy="952" rx="52" ry="118"/></g></svg>
<svg style="left:731.0px;top:848.8px" width="60" height="48" viewBox="0 0 1546 1237"><path d="M735,300C775,400 580,460 580,530C580,580 640,615 655,640" fill="none" stroke="#e9952c" stroke-width="24" /><path d="M765,430C700,470 668,510 690,560C710,600 722,620 700,652" fill="none" stroke="#e8912a" stroke-width="36" /><path d="M470,682C560,722 700,712 790,680M810,655C900,640 920,700 820,770" fill="none" stroke="#6a8fae" stroke-width="20" /><path d="M530,762H760M550,832H745" fill="none" stroke="#4a759b" stroke-width="30" /><path d="M430,885C500,930 700,940 890,910" fill="none" stroke="#6a8fae" stroke-width="22" /><path d="M520,942H840" fill="none" stroke="#9db7cc" stroke-width="16" /></svg>
<div style="left:782px;top:856.0px;width:89px;height:33.6px;background:#f3f8fc;border-radius:7px"></div>
<div style="left:878px;top:856.0px;width:38px;height:33.6px;border:1px solid #c4c9df;border-radius:7px"></div>
<div style="left:2046px;top:856.8px;width:128px;height:32px;background:#e8f6ea;border-radius:6px"></div>
<svg style="left:2210px;top:848.4px" width="60" height="48" viewBox="0 0 1546 1237"><circle cx="362" cy="490" r="150" fill="#2d69bc"/><circle cx="535" cy="795" r="150" fill="#2d69bc"/><circle cx="705" cy="490" r="125" fill="none" stroke="#2d69bc" stroke-width="50"/></svg>
<svg style="left:2405px;top:848.40px" width="70" height="48" viewBox="0 0 1804 1237"><path d="M330,410V820" fill="none" stroke="#2d69bc" stroke-width="42" /><path d="M330,822H880" fill="none" stroke="#4d80c6" stroke-width="30" /><polygon points="390,765 390,595 500,455 665,610 770,520 845,765" fill="#2d69bc"/></svg>
<div style="left:2567px;top:856.8px;width:128px;height:32px;background:#69c271;border-radius:6px"></div>
<div style="left:449px;top:975px;width:2262px;height:2px;background:#e2e4ee"></div>
<svg style="left:468px;top:932.0px" width="13" height="19" viewBox="0 0 13 19"><path d="M2.1 2.2l8 7.3-8 7.3" fill="none" stroke="#1c2731" stroke-width="2.3"/></svg>
<svg style="left:507.95px;top:926.85px" width="32.60" height="32.60" viewBox="507.95 926.85 32.60 32.60"><polygon points="524.25,929.85 528.16,937.77 536.90,939.04 530.57,945.20 532.07,953.91 524.25,949.80 516.43,953.91 517.93,945.20 511.60,939.04 520.34,937.77" fill="none" stroke="#616b75" stroke-width="2.5" stroke-linejoin="round"/></svg>
<div style="left:561px;top:923.8999999999999px;width:36px;height:35.4px;background:#f4ae43;border-radius:9px"></div>
<svg style="left:567.5px;top:931.8000000000001px" width="23" height="19.6" viewBox="100 185 370 315"><g fill="none" stroke="#111" stroke-width="32" transform="translate(0,-618)"><path d="M405,835H178C150,835 132,880 132,952C132,1025 150,1070 178,1070H405"/><ellipse cx="405" cy="952" rx="52" ry="118"/></g></svg>
<svg style="left:812.0px;top:917.5999999999999px" width="60" height="48" viewBox="0 0 1546 1237"><path d="M735,300C775,400 580,460 580,530C580,580 640,615 655,640" fill="none" stroke="#e9952c" stroke-width="24" /><path d="M765,430C700,470 668,510 690,560C710,600 722,620 700,652" fill="none" stroke="#e8912a" stroke-width="36" /><path d="M470,682C560,722 700,712 790,680M810,655C900,640 920,700 820,770" fill="none" stroke="#6a8fae" stroke-width="20" /><path d="M530,762H760M550,832H745" fill="none" stroke="#4a759b" stroke-width="30" /><path d="M430,885C500,930 700,940 890,910" fill="none" stroke="#6a8fae" stroke-width="22" /><path d="M520,942H840" fill="none" stroke="#9db7cc" stroke-width="16" /></svg>
<div style="left:863px;top:924.8px;width:89px;height:33.6px;background:#f3f8fc;border-radius:7px"></div>
<div style="left:959px;top:924.8px;width:38px;height:33.6px;border:1px solid #c4c9df;border-radius:7px"></div>
<svg style="left:2210px;top:917.1999999999999px" width="60" height="48" viewBox="0 0 1546 1237"><circle cx="362" cy="490" r="150" fill="#2d69bc"/><circle cx="535" cy="795" r="150" fill="#2d69bc"/><circle cx="705" cy="490" r="125" fill="none" stroke="#2d69bc" stroke-width="50"/></svg>
<svg style="left:2405px;top:917.20px" width="70" height="48" viewBox="0 0 1804 1237"><path d="M330,410V820" fill="none" stroke="#2d69bc" stroke-width="42" /><path d="M330,822H880" fill="none" stroke="#4d80c6" stroke-width="30" /><polygon points="390,765 390,595 500,455 665,610 770,520 845,765" fill="#2d69bc"/></svg>
<div style="left:2567px;top:925.5999999999999px;width:128px;height:32px;background:#69c271;border-radius:6px"></div>
<div style="left:449px;top:1044px;width:2262px;height:2px;background:#e2e4ee"></div>
<svg style="left:468px;top:1000.8px" width="13" height="19" viewBox="0 0 13 19"><path d="M2.1 2.2l8 7.3-8 7.3" fill="none" stroke="#1c2731" stroke-width="2.3"/></svg>
<svg style="left:507.95px;top:995.65px" width="32.60" height="32.60" viewBox="507.95 995.65 32.60 32.60"><polygon points="524.25,998.65 528.16,1006.57 536.90,1007.84 530.57,1014.00 532.07,1022.71 524.25,1018.60 516.43,1022.71 517.93,1014.00 511.60,1007.84 520.34,1006.57" fill="none" stroke="#616b75" stroke-width="2.5" stroke-linejoin="round"/></svg>
<div style="left:561px;top:992.6999999999999px;width:36px;height:35.4px;background:#b34fb4;border-radius:9px"></div>
<svg style="left:567.5px;top:1000.6px" width="23" height="19.6" viewBox="100 185 370 315"><g fill="none" stroke="#fff" stroke-width="32" transform="translate(0,-618)"><path d="M405,835H178C150,835 132,880 132,952C132,1025 150,1070 178,1070H405"/><ellipse cx="405" cy="952" rx="52" ry="118"/></g></svg>
<svg style="left:832.6px;top:986.4px" width="60" height="48" viewBox="0 0 1546 1237"><path d="M735,300C775,400 580,460 580,530C580,580 640,615 655,640" fill="none" stroke="#e9952c" stroke-width="24" /><path d="M765,430C700,470 668,510 690,560C710,600 722,620 700,652" fill="none" stroke="#e8912a" stroke-width="36" /><path d="M470,682C560,722 700,712 790,680M810,655C900,640 920,700 820,770" fill="none" stroke="#6a8fae" stroke-width="20" /><path d="M530,762H760M550,832H745" fill="none" stroke="#4a759b" stroke-width="30" /><path d="M430,885C500,930 700,940 890,910" fill="none" stroke="#6a8fae" stroke-width="22" /><path d="M520,942H840" fill="none" stroke="#9db7cc" stroke-width="16" /></svg>
<div style="left:883.6px;top:993.6px;width:89px;height:33.6px;background:#f3f8fc;border-radius:7px"></div>
<div style="left:979.6px;top:993.6px;width:38px;height:33.6px;border:1px solid #c4c9df;border-radius:7px"></div>
<svg style="left:2210px;top:986.0px" width="60" height="48" viewBox="0 0 1546 1237"><circle cx="362" cy="490" r="150" fill="#2d69bc"/><circle cx="535" cy="795" r="150" fill="#2d69bc"/><circle cx="705" cy="490" r="125" fill="none" stroke="#2d69bc" stroke-width="50"/></svg>
<svg style="left:2405px;top:986.00px" width="70" height="48" viewBox="0 0 1804 1237"><path d="M330,410V820" fill="none" stroke="#2d69bc" stroke-width="42" /><path d="M330,822H880" fill="none" stroke="#4d80c6" stroke-width="30" /><polygon points="390,765 390,595 500,455 665,610 770,520 845,765" fill="#2d69bc"/></svg>
<div style="left:2567px;top:994.4px;width:128px;height:32px;background:#69c271;border-radius:6px"></div>
<div style="left:449px;top:1112px;width:2262px;height:2px;background:#e2e4ee"></div>
<svg style="left:507.95px;top:1064.45px" width="32.60" height="32.60" viewBox="507.95 1064.45 32.60 32.60"><polygon points="524.25,1067.45 528.16,1075.37 536.90,1076.64 530.57,1082.80 532.07,1091.51 524.25,1087.40 516.43,1091.51 517.93,1082.80 511.60,1076.64 520.34,1075.37" fill="none" stroke="#616b75" stroke-width="2.5" stroke-linejoin="round"/></svg>
<div style="left:561px;top:1061.4999999999998px;width:36px;height:35.4px;background:#f4ae43;border-radius:9px"></div>
<svg style="left:561px;top:1061.2px" width="36" height="36" viewBox="0 0 36 36"><g fill="none" stroke="#111" stroke-width="1.85"><circle cx="18" cy="18.2" r="9.25"/><ellipse cx="18" cy="18.2" rx="3.7" ry="9.25"/><path d="M8.75,18.2H27.25"/></g></svg>
<svg style="left:792.3px;top:1055.1999999999998px" width="60" height="48" viewBox="0 0 1546 1237"><path d="M735,300C775,400 580,460 580,530C580,580 640,615 655,640" fill="none" stroke="#e9952c" stroke-width="24" /><path d="M765,430C700,470 668,510 690,560C710,600 722,620 700,652" fill="none" stroke="#e8912a" stroke-width="36" /><path d="M470,682C560,722 700,712 790,680M810,655C900,640 920,700 820,770" fill="none" stroke="#6a8fae" stroke-width="20" /><path d="M530,762H760M550,832H745" fill="none" stroke="#4a759b" stroke-width="30" /><path d="M430,885C500,930 700,940 890,910" fill="none" stroke="#6a8fae" stroke-width="22" /><path d="M520,942H840" fill="none" stroke="#9db7cc" stroke-width="16" /></svg>
<div style="left:843.3px;top:1062.3999999999999px;width:104px;height:33.6px;background:#f3f8fc;border-radius:7px"></div>
<div style="left:1763px;top:1090.9999999999998px;width:96px;height:8.6px;background:#dfe1ec"></div>
<div style="left:1763px;top:1090.9999999999998px;width:3px;height:8.6px;background:#3f84e6"></div>
<svg style="left:2405px;top:1054.80px" width="70" height="48" viewBox="0 0 1804 1237"><path d="M330,410V820" fill="none" stroke="#2d69bc" stroke-width="42" /><path d="M330,822H880" fill="none" stroke="#4d80c6" stroke-width="30" /><polygon points="390,765 390,595 500,455 665,610 770,520 845,765" fill="#2d69bc"/></svg>
<div style="left:2567px;top:1063.1999999999998px;width:128px;height:32px;background:#69c271;border-radius:6px"></div>
<div style="left:449px;top:1181px;width:2262px;height:2px;background:#e2e4ee"></div>
<svg style="left:468px;top:1138.4px" width="13" height="19" viewBox="0 0 13 19"><path d="M2.1 2.2l8 7.3-8 7.3" fill="none" stroke="#1c2731" stroke-width="2.3"/></svg>
<svg style="left:507.95px;top:1133.25px" width="32.60" height="32.60" viewBox="507.95 1133.25 32.60 32.60"><polygon points="524.25,1136.25 528.16,1144.17 536.90,1145.44 530.57,1151.60 532.07,1160.31 524.25,1156.20 516.43,1160.31 517.93,1151.60 511.60,1145.44 520.34,1144.17" fill="none" stroke="#616b75" stroke-width="2.5" stroke-linejoin="round"/></svg>
<div style="left:561px;top:1130.3px;width:36px;height:35.4px;background:#5cc1bf;border-radius:9px"></div>
<svg style="left:568.6px;top:1136.3px" width="21.6" height="24.5" viewBox="130 85 330 375"><g fill="none" stroke="#111" stroke-width="30"><ellipse cx="295" cy="165" rx="147" ry="66"/><path d="M148,165V365C148,400 210,431 295,431C380,431 442,400 442,365V165M148,265C148,300 210,331 295,331C380,331 442,300 442,265"/></g><circle cx="312" cy="282" r="15" fill="#111"/><circle cx="376" cy="270" r="15" fill="#111"/><circle cx="312" cy="382" r="15" fill="#111"/><circle cx="376" cy="370" r="15" fill="#111"/></svg>
<div style="left:905.1px;top:1135.1px;width:24.8px;height:25.8px;background:#5327d1"></div>
<span style="left:908.8px;top:1142.3px;font-size:9.6px;line-height:11px;color:#fff;letter-spacing:-0.35px;font-weight:400">.NET</span>
<div style="left:943.4px;top:1131.2px;width:89px;height:33.6px;background:#f3f8fc;border-radius:7px"></div>
<div style="left:1039.4px;top:1131.2px;width:38px;height:33.6px;border:1px solid #c4c9df;border-radius:7px"></div>
<div style="left:1763px;top:1159.8px;width:96px;height:8.6px;background:#dfe1ec"></div>
<svg style="left:2405px;top:1123.60px" width="70" height="48" viewBox="0 0 1804 1237"><path d="M330,410V820" fill="none" stroke="#2d69bc" stroke-width="42" /><path d="M330,822H880" fill="none" stroke="#4d80c6" stroke-width="30" /><polygon points="390,765 390,595 500,455 665,610 770,520 845,765" fill="#2d69bc"/></svg>
<div style="left:2567px;top:1132.0px;width:128px;height:32px;background:#da4450;border-radius:6px"></div>
<div style="left:449px;top:1250px;width:2262px;height:2px;background:#e2e4ee"></div>
<svg style="left:468px;top:1207.2px" width="13" height="19" viewBox="0 0 13 19"><path d="M2.1 2.2l8 7.3-8 7.3" fill="none" stroke="#1c2731" stroke-width="2.3"/></svg>
<svg style="left:507.95px;top:1202.05px" width="32.60" height="32.60" viewBox="507.95 1202.05 32.60 32.60"><polygon points="524.25,1205.05 528.16,1212.97 536.90,1214.24 530.57,1220.40 532.07,1229.11 524.25,1225.00 516.43,1229.11 517.93,1220.40 511.60,1214.24 520.34,1212.97" fill="none" stroke="#616b75" stroke-width="2.5" stroke-linejoin="round"/></svg>
<div style="left:561px;top:1199.1px;width:36px;height:35.4px;background:#c48bcd;border-radius:9px"></div>
<svg style="left:567.5px;top:1207.0px" width="23" height="19.6" viewBox="100 185 370 315"><g fill="none" stroke="#fff" stroke-width="32" transform="translate(0,-618)"><path d="M405,835H178C150,835 132,880 132,952C132,1025 150,1070 178,1070H405"/><ellipse cx="405" cy="952" rx="52" ry="118"/></g></svg>
<svg style="left:803.0px;top:1192.8px" width="60" height="48" viewBox="0 0 1546 1237"><path d="M735,300C775,400 580,460 580,530C580,580 640,615 655,640" fill="none" stroke="#e9952c" stroke-width="24" /><path d="M765,430C700,470 668,510 690,560C710,600 722,620 700,652" fill="none" stroke="#e8912a" stroke-width="36" /><path d="M470,682C560,722 700,712 790,680M810,655C900,640 920,700 820,770" fill="none" stroke="#6a8fae" stroke-width="20" /><path d="M530,762H760M550,832H745" fill="none" stroke="#4a759b" stroke-width="30" /><path d="M430,885C500,930 700,940 890,910" fill="none" stroke="#6a8fae" stroke-width="22" /><path d="M520,942H840" fill="none" stroke="#9db7cc" stroke-width="16" /></svg>
<div style="left:854px;top:1200.0px;width:89px;height:33.6px;background:#f3f8fc;border-radius:7px"></div>
<div style="left:950px;top:1200.0px;width:38px;height:33.6px;border:1px solid #c4c9df;border-radius:7px"></div>
<svg style="left:2210px;top:1192.3999999999999px" width="60" height="48" viewBox="0 0 1546 1237"><circle cx="362" cy="490" r="150" fill="#2d69bc"/><circle cx="535" cy="795" r="150" fill="#2d69bc"/><circle cx="705" cy="490" r="125" fill="none" stroke="#2d69bc" stroke-width="50"/></svg>
<svg style="left:2405px;top:1192.40px" width="70" height="48" viewBox="0 0 1804 1237"><path d="M330,410V820" fill="none" stroke="#2d69bc" stroke-width="42" /><path d="M330,822H880" fill="none" stroke="#4d80c6" stroke-width="30" /><polygon points="390,765 390,595 500,455 665,610 770,520 845,765" fill="#2d69bc"/></svg>
<div style="left:2567px;top:1200.8px;width:128px;height:32px;background:#da4450;border-radius:6px"></div>
<div style="left:449px;top:1319px;width:2262px;height:2px;background:#e2e4ee"></div>
<svg style="left:468px;top:1276.0px" width="13" height="19" viewBox="0 0 13 19"><path d="M2.1 2.2l8 7.3-8 7.3" fill="none" stroke="#1c2731" stroke-width="2.3"/></svg>
<svg style="left:507.95px;top:1270.85px" width="32.60" height="32.60" viewBox="507.95 1270.85 32.60 32.60"><polygon points="524.25,1273.85 528.16,1281.77 536.90,1283.04 530.57,1289.20 532.07,1297.91 524.25,1293.80 516.43,1297.91 517.93,1289.20 511.60,1283.04 520.34,1281.77" fill="none" stroke="#616b75" stroke-width="2.5" stroke-linejoin="round"/></svg>
<div style="left:561px;top:1267.8999999999999px;width:36px;height:35.4px;background:#4fa5dc;border-radius:9px"></div>
<svg style="left:561px;top:1267.6px" width="36" height="36" viewBox="0 0 36 36"><g fill="none" stroke="#fff" stroke-width="1.85"><circle cx="18" cy="18.2" r="9.25"/><ellipse cx="18" cy="18.2" rx="3.7" ry="9.25"/><path d="M8.75,18.2H27.25"/></g></svg>
<svg style="left:830.0px;top:1261.6px" width="60" height="48" viewBox="0 0 1546 1237"><path d="M250,645V520Q310,475 365,535V645" fill="none" stroke="#222" stroke-width="40" /><polygon points="475,488 545,527 545,605 475,644 405,605 405,527" fill="#4f9a3a"/><circle cx="655" cy="575" r="52" fill="none" stroke="#222" stroke-width="40"/><path d="M707,420V645" fill="none" stroke="#222" stroke-width="40" /><path d="M885,560C860,495 790,500 785,575C790,645 850,655 885,620" fill="none" stroke="#222" stroke-width="38" /><path d="M795,575H880" fill="none" stroke="#222" stroke-width="22" /><polygon points="565,650 628,685 628,755 565,790 502,755 502,685" fill="none" stroke="#a5cf96" stroke-width="14"/></svg>
<div style="left:878px;top:1268.8px;width:89px;height:33.6px;background:#f3f8fc;border-radius:7px"></div>
<div style="left:974px;top:1268.8px;width:38px;height:33.6px;border:1px solid #c4c9df;border-radius:7px"></div>
<div style="left:1763px;top:1297.3999999999999px;width:96px;height:8.6px;background:#dfe1ec"></div>
<div style="left:1763px;top:1297.3999999999999px;width:3px;height:8.6px;background:#3f84e6"></div>
<div style="left:2046px;top:1269.6px;width:128px;height:32px;background:#fce8eb;border-radius:6px"></div>
<svg style="left:2405px;top:1261.20px" width="70" height="48" viewBox="0 0 1804 1237"><path d="M330,410V820" fill="none" stroke="#2d69bc" stroke-width="42" /><path d="M330,822H880" fill="none" stroke="#4d80c6" stroke-width="30" /><polygon points="390,765 390,595 500,455 665,610 770,520 845,765" fill="#2d69bc"/></svg>
<div style="left:2567px;top:1269.6px;width:128px;height:32px;background:#69c271;border-radius:6px"></div>
<span style="left:68.07px;top:21.16px;font-size:29.81px;line-height:29.81px;color:#1c2b34;letter-spacing:0.179px;-webkit-text-stroke:0.22px;">Internal Developer Portal</span>
<span style="left:465.51px;top:22.39px;font-size:24.84px;line-height:24.84px;color:#5c6873;letter-spacing:-0.015px;-webkit-text-stroke:0.22px;">Overview</span>
<span style="left:646.74px;top:22.39px;font-size:24.84px;line-height:24.84px;color:#1c2b34;letter-spacing:0.152px;-webkit-text-stroke:0.22px;">Software Catalog</span>
<span style="left:915.74px;top:22.39px;font-size:24.84px;line-height:24.84px;color:#5c6873;letter-spacing:-0.265px;-webkit-text-stroke:0.22px;">Scorecards</span>
<span style="left:1115.18px;top:22.39px;font-size:24.84px;line-height:24.84px;color:#5c6873;letter-spacing:-0.160px;-webkit-text-stroke:0.22px;">Self-Service Actions</span>
<span style="left:1346.16px;top:27.01px;font-size:18.22px;line-height:18.22px;color:#9c3df6;font-weight:700;transform-origin:0 0;transform:scaleX(0.9492);">NEW</span>
<span style="left:2639.28px;top:23.70px;font-size:21.53px;line-height:21.53px;color:#1c2b34;letter-spacing:0.244px;transform-origin:0 0;transform:scaleX(1.0195);-webkit-text-stroke:0.22px;">Manage</span>
<span style="left:502.00px;top:109.50px;font-size:21.53px;line-height:21.53px;color:#8a929c;letter-spacing:0.014px;-webkit-text-stroke:0.22px;">Search by name or tags</span>
<span style="left:2345.23px;top:86.92px;font-size:16.56px;line-height:16.56px;color:#5c6873;transform-origin:0 0;transform:scaleX(0.9388);-webkit-text-stroke:0.22px;">UTC-04:00</span>
<span style="left:2282.79px;top:108.50px;font-size:21.53px;line-height:21.53px;color:#5c6873;letter-spacing:0.920px;-webkit-text-stroke:0.22px;">1h</span>
<span style="left:2342.43px;top:108.50px;font-size:21.53px;line-height:21.53px;color:#1c2b34;letter-spacing:0.029px;-webkit-text-stroke:0.22px;">Past 1 Hour</span>
<span style="left:503.42px;top:171.70px;font-size:21.53px;line-height:21.53px;color:#2d67ba;transform-origin:0 0;transform:scaleX(0.9602);-webkit-text-stroke:0.22px;">List</span>
<span style="left:604.94px;top:171.70px;font-size:21.53px;line-height:21.53px;color:#1c2b34;letter-spacing:0.253px;-webkit-text-stroke:0.22px;">Map</span>
<span style="left:722.01px;top:171.70px;font-size:21.53px;line-height:21.53px;color:#1c2b34;letter-spacing:0.011px;-webkit-text-stroke:0.22px;">My Teams</span>
<span style="left:1019.63px;top:148.71px;font-size:18.22px;line-height:18.22px;color:#5c6873;transform-origin:0 0;transform:scaleX(0.8995);-webkit-text-stroke:0.22px;">Env</span>
<span style="left:1019.40px;top:170.97px;font-size:28.98px;line-height:28.98px;color:#7d8690;-webkit-text-stroke:0.22px;">*</span>
<span style="left:1144.43px;top:171.70px;font-size:21.53px;line-height:21.53px;color:#2d67ba;letter-spacing:0.217px;-webkit-text-stroke:0.22px;">Filter</span>
<span style="left:506.70px;top:243.11px;font-size:19.87px;line-height:19.87px;color:#1c2b34;letter-spacing:0.396px;-webkit-text-stroke:0.22px;">Ownership</span>
<span style="left:683.40px;top:243.11px;font-size:19.87px;line-height:19.87px;color:#1c2b34;letter-spacing:0.142px;-webkit-text-stroke:0.22px;">Reliability</span>
<span style="left:848.45px;top:243.11px;font-size:19.87px;line-height:19.87px;color:#2d67ba;letter-spacing:0.391px;-webkit-text-stroke:0.22px;">Performance</span>
<span style="left:1044.04px;top:243.11px;font-size:19.87px;line-height:19.87px;color:#1c2b34;letter-spacing:-0.008px;-webkit-text-stroke:0.22px;">Security</span>
<span style="left:1194.64px;top:243.11px;font-size:19.87px;line-height:19.87px;color:#1c2b34;transform-origin:0 0;transform:scaleX(0.9715);-webkit-text-stroke:0.22px;">Costs</span>
<span style="left:1321.69px;top:243.11px;font-size:19.87px;line-height:19.87px;color:#1c2b34;letter-spacing:0.128px;-webkit-text-stroke:0.22px;">Delivery</span>
<span style="left:449.75px;top:325.70px;font-size:21.53px;line-height:21.53px;color:#1c2b34;font-weight:700;transform-origin:0 0;transform:scaleX(0.9878);">578</span>
<span style="left:491.48px;top:325.70px;font-size:21.53px;line-height:21.53px;color:#1c2b34;transform-origin:0 0;transform:scaleX(0.9628);-webkit-text-stroke:0.22px;">Services across</span>
<span style="left:643.29px;top:325.70px;font-size:21.53px;line-height:21.53px;color:#1c2b34;font-weight:700;transform-origin:0 0;transform:scaleX(0.9639);">15</span>
<span style="left:672.72px;top:325.70px;font-size:21.53px;line-height:21.53px;color:#1c2b34;letter-spacing:-0.265px;-webkit-text-stroke:0.22px;">envs</span>
<span style="left:758.46px;top:301.91px;font-size:18.22px;line-height:18.22px;color:#5c6873;letter-spacing:-0.081px;-webkit-text-stroke:0.22px;">Scope APM data to</span>
<span style="left:758.65px;top:325.70px;font-size:21.53px;line-height:21.53px;color:#848c96;letter-spacing:0.265px;-webkit-text-stroke:0.22px;">cluster_name:*</span>
<span style="left:977.77px;top:301.91px;font-size:18.22px;line-height:18.22px;color:#5c6873;letter-spacing:-0.161px;-webkit-text-stroke:0.22px;">Group By</span>
<span style="left:977.21px;top:325.70px;font-size:21.53px;line-height:21.53px;color:#848c96;letter-spacing:0.262px;transform-origin:0 0;transform:scaleX(1.0206);-webkit-text-stroke:0.22px;">None</span>
<span style="left:2508.54px;top:308.40px;font-size:21.53px;line-height:21.53px;color:#5c6873;letter-spacing:-0.297px;-webkit-text-stroke:0.22px;">Service</span>
<span style="left:562.07px;top:394.71px;font-size:19.87px;line-height:19.87px;color:#1c2b34;font-weight:700;transform-origin:0 0;transform:scaleX(0.8474);">TYPE</span>
<span style="left:648.95px;top:394.71px;font-size:19.87px;line-height:19.87px;color:#1c2b34;font-weight:700;transform-origin:0 0;transform:scaleX(0.9640);">NAME</span>
<span style="left:1178.79px;top:394.71px;font-size:19.87px;line-height:19.87px;color:#1c2b34;font-weight:700;transform-origin:0 0;transform:scaleX(0.9418);">HEALTH</span>
<span style="left:1334.01px;top:394.71px;font-size:19.87px;line-height:19.87px;color:#1c2b34;font-weight:700;transform-origin:0 0;transform:scaleX(0.8904);">LAST DEPLOY</span>
<span style="left:1540.11px;top:394.71px;font-size:19.87px;line-height:19.87px;color:#1c2b34;font-weight:700;transform-origin:0 0;transform:scaleX(0.8689);">REQUESTS</span>
<span style="left:1745.36px;top:394.71px;font-size:19.87px;line-height:19.87px;color:#1c2b34;font-weight:700;transform-origin:0 0;transform:scaleX(0.8677);">ERROR RATE</span>
<span style="left:1897.63px;top:394.71px;font-size:19.87px;line-height:19.87px;color:#1c2b34;font-weight:700;transform-origin:0 0;transform:scaleX(0.9152);">P95 LATENCY</span>
<span style="left:2087.23px;top:394.71px;font-size:19.87px;line-height:19.87px;color:#1c2b34;font-weight:700;transform-origin:0 0;transform:scaleX(0.8745);">SLOS</span>
<span style="left:2200.87px;top:394.71px;font-size:19.87px;line-height:19.87px;color:#1c2b34;font-weight:700;transform-origin:0 0;transform:scaleX(0.9144);">INFRASTRUCTURE</span>
<span style="left:2400.67px;top:394.71px;font-size:19.87px;line-height:19.87px;color:#1c2b34;font-weight:700;transform-origin:0 0;transform:scaleX(0.9109);">DASHBOARDS</span>
<span style="left:2578.73px;top:394.71px;font-size:19.87px;line-height:19.87px;color:#1c2b34;font-weight:700;letter-spacing:-0.286px;">MONITORS</span>
<span style="left:20.77px;top:113.69px;font-size:24.84px;line-height:24.84px;color:#1c2b34;font-weight:700;transform-origin:0 0;transform:scaleX(0.9595);">Teams</span>
<span style="left:62.19px;top:170.30px;font-size:21.53px;line-height:21.53px;color:#1c2b34;letter-spacing:-0.298px;-webkit-text-stroke:0.22px;">Teams</span>
<span style="left:349.24px;top:170.71px;font-size:19.87px;line-height:19.87px;color:#5c6873;transform-origin:0 0;transform:scaleX(0.9704);-webkit-text-stroke:0.22px;">446</span>
<span style="left:19.88px;top:240.89px;font-size:24.84px;line-height:24.84px;color:#1c2b34;font-weight:700;letter-spacing:-0.015px;">Software</span>
<span style="left:61.01px;top:302.30px;font-size:21.53px;line-height:21.53px;color:#1c2b34;letter-spacing:0.166px;-webkit-text-stroke:0.22px;">My Entities</span>
<span style="left:370.74px;top:302.71px;font-size:19.87px;line-height:19.87px;color:#5c6873;-webkit-text-stroke:0.22px;">0</span>
<span style="left:61.02px;top:351.20px;font-size:21.53px;line-height:21.53px;color:#1c2b34;transform-origin:0 0;transform:scaleX(0.9719);-webkit-text-stroke:0.22px;">Systems</span>
<span style="left:155.27px;top:353.01px;font-size:18.22px;line-height:18.22px;color:#9c3df6;font-weight:700;transform-origin:0 0;transform:scaleX(0.9346);">NEW</span>
<span style="left:359.19px;top:351.61px;font-size:19.87px;line-height:19.87px;color:#5c6873;transform-origin:0 0;transform:scaleX(0.9770);-webkit-text-stroke:0.22px;">23</span>
<span style="left:102.74px;top:401.20px;font-size:21.53px;line-height:21.53px;color:#fff;transform-origin:0 0;transform:scaleX(0.9509);-webkit-text-stroke:0.22px;">Services</span>
<span style="left:348.49px;top:402.11px;font-size:19.87px;line-height:19.87px;color:#fff;letter-spacing:0.077px;-webkit-text-stroke:0.22px;">578</span>
<span style="left:102.69px;top:450.55px;font-size:21.53px;line-height:21.53px;color:#1c2b34;letter-spacing:0.189px;-webkit-text-stroke:0.22px;">Datastores</span>
<span style="left:359.12px;top:451.96px;font-size:19.87px;line-height:19.87px;color:#5c6873;transform-origin:0 0;transform:scaleX(0.9736);-webkit-text-stroke:0.22px;">55</span>
<span style="left:103.27px;top:499.88px;font-size:21.53px;line-height:21.53px;color:#1c2b34;letter-spacing:-0.136px;-webkit-text-stroke:0.22px;">Queues</span>
<span style="left:359.19px;top:501.29px;font-size:19.87px;line-height:19.87px;color:#5c6873;transform-origin:0 0;transform:scaleX(0.9785);-webkit-text-stroke:0.22px;">39</span>
<span style="left:102.69px;top:550.21px;font-size:21.53px;line-height:21.53px;color:#1c2b34;letter-spacing:0.282px;-webkit-text-stroke:0.22px;">Frontend Apps</span>
<span style="left:360.23px;top:550.62px;font-size:19.87px;line-height:19.87px;color:#5c6873;transform-origin:0 0;transform:scaleX(0.9355);-webkit-text-stroke:0.22px;">10</span>
<span style="left:102.69px;top:598.54px;font-size:21.53px;line-height:21.53px;color:#1c2b34;letter-spacing:0.083px;-webkit-text-stroke:0.22px;">External Providers</span>
<span style="left:360.23px;top:599.95px;font-size:19.87px;line-height:19.87px;color:#5c6873;transform-origin:0 0;transform:scaleX(0.9355);-webkit-text-stroke:0.22px;">10</span>
<span style="left:102.45px;top:647.87px;font-size:21.53px;line-height:21.53px;color:#1c2b34;letter-spacing:0.130px;-webkit-text-stroke:0.22px;">Inferred Services</span>
<span style="left:359.14px;top:649.28px;font-size:19.87px;line-height:19.87px;color:#5c6873;transform-origin:0 0;transform:scaleX(0.9727);-webkit-text-stroke:0.22px;">65</span>
<span style="left:104.07px;top:697.20px;font-size:21.53px;line-height:21.53px;color:#1c2b34;letter-spacing:0.085px;-webkit-text-stroke:0.22px;">AI Agent</span>
<span style="left:371.04px;top:697.61px;font-size:19.87px;line-height:19.87px;color:#5c6873;-webkit-text-stroke:0.22px;">1</span>
<span style="left:102.79px;top:746.53px;font-size:21.53px;line-height:21.53px;color:#1c2b34;transform-origin:0 0;transform:scaleX(0.9443);-webkit-text-stroke:0.22px;">Cron Jobs</span>
<span style="left:370.51px;top:747.94px;font-size:19.87px;line-height:19.87px;color:#5c6873;-webkit-text-stroke:0.22px;">7</span>
<span style="left:102.69px;top:795.86px;font-size:21.53px;line-height:21.53px;color:#1c2b34;letter-spacing:0.227px;-webkit-text-stroke:0.22px;">Libraries</span>
<span style="left:370.58px;top:797.27px;font-size:19.87px;line-height:19.87px;color:#5c6873;-webkit-text-stroke:0.22px;">6</span>
<span style="left:102.69px;top:845.19px;font-size:21.53px;line-height:21.53px;color:#1c2b34;letter-spacing:0.139px;-webkit-text-stroke:0.22px;">Pipeline</span>
<span style="left:371.04px;top:845.60px;font-size:19.87px;line-height:19.87px;color:#5c6873;-webkit-text-stroke:0.22px;">1</span>
<span style="left:62.84px;top:894.00px;font-size:21.53px;line-height:21.53px;color:#1c2b34;transform-origin:0 0;transform:scaleX(0.9065);-webkit-text-stroke:0.22px;">APIs</span>
<span style="left:117.24px;top:894.81px;font-size:18.22px;line-height:18.22px;color:#9c3df6;font-weight:700;transform-origin:0 0;transform:scaleX(0.9317);">NEW</span>
<span style="left:359.32px;top:895.41px;font-size:19.87px;line-height:19.87px;color:#5c6873;transform-origin:0 0;transform:scaleX(0.9675);-webkit-text-stroke:0.22px;">18</span>
<span style="left:102.69px;top:943.90px;font-size:21.53px;line-height:21.53px;color:#1c2b34;letter-spacing:0.292px;-webkit-text-stroke:0.22px;">Endpoints</span>
<span style="left:348.98px;top:944.81px;font-size:19.87px;line-height:19.87px;color:#5c6873;transform-origin:0 0;transform:scaleX(0.9377);-webkit-text-stroke:0.22px;">231</span>
<span style="left:648.64px;top:450.30px;font-size:23.18px;line-height:23.18px;color:#1c2b34;font-weight:700;letter-spacing:0.314px;transform-origin:0 0;transform:scaleX(1.0292);">observability-pipelines-w...</span>
<span style="left:986.00px;top:450.30px;font-size:21.53px;line-height:21.53px;color:#1c2b34;letter-spacing:0.108px;-webkit-text-stroke:0.22px;">env:dev</span>
<span style="left:1082.44px;top:450.30px;font-size:21.53px;line-height:21.53px;color:#1c2b34;transform-origin:0 0;transform:scaleX(0.9463);-webkit-text-stroke:0.22px;">+1</span>
<span style="left:1506.57px;top:450.30px;font-size:23.18px;line-height:23.18px;color:#1c2b34;font-weight:700;letter-spacing:0.408px;transform-origin:0 0;transform:scaleX(1.0352);">14.7k req/s</span>
<span style="left:1959.83px;top:450.30px;font-size:23.18px;line-height:23.18px;color:#1c2b34;font-weight:700;letter-spacing:0.204px;">2.17s</span>
<span style="left:2218.43px;top:449.80px;font-size:21.53px;line-height:21.53px;color:#2d67ba;letter-spacing:0.427px;-webkit-text-stroke:0.22px;">N/A</span>
<span style="left:2611.10px;top:451.71px;font-size:18.22px;line-height:18.22px;color:#fff;font-weight:700;transform-origin:0 0;transform:scaleX(0.9503);">2 OK</span>
<span style="left:648.64px;top:519.10px;font-size:23.18px;line-height:23.18px;color:#1c2b34;font-weight:700;letter-spacing:0.290px;transform-origin:0 0;transform:scaleX(1.0232);">orders-app</span>
<span style="left:827.00px;top:518.10px;font-size:21.53px;line-height:21.53px;color:#1c2b34;letter-spacing:0.108px;-webkit-text-stroke:0.22px;">env:dev</span>
<span style="left:923.44px;top:518.10px;font-size:21.53px;line-height:21.53px;color:#1c2b34;transform-origin:0 0;transform:scaleX(0.9473);-webkit-text-stroke:0.22px;">+2</span>
<span style="left:1371.00px;top:519.50px;font-size:21.53px;line-height:21.53px;color:#5c6873;letter-spacing:0.371px;-webkit-text-stroke:0.22px;">1mo ago</span>
<span style="left:1518.50px;top:519.10px;font-size:23.18px;line-height:23.18px;color:#1c2b34;font-weight:700;letter-spacing:0.442px;transform-origin:0 0;transform:scaleX(1.0422);">3.3k req/s</span>
<span style="left:1959.83px;top:519.10px;font-size:23.18px;line-height:23.18px;color:#1c2b34;font-weight:700;letter-spacing:0.204px;">26.3s</span>
<span style="left:2254.65px;top:518.60px;font-size:21.53px;line-height:21.53px;color:#2d67ba;-webkit-text-stroke:0.22px;">1</span>
<span style="left:2451.00px;top:518.60px;font-size:21.53px;line-height:21.53px;color:#2d67ba;-webkit-text-stroke:0.22px;">1</span>
<span style="left:2598.25px;top:520.51px;font-size:18.22px;line-height:18.22px;color:#fff;font-weight:700;transform-origin:0 0;transform:scaleX(0.8835);">1 ALERT</span>
<span style="left:647.72px;top:587.90px;font-size:23.18px;line-height:23.18px;color:#1c2b34;font-weight:700;letter-spacing:0.455px;transform-origin:0 0;transform:scaleX(1.0381);">unnamed-python-serv...</span>
<span style="left:986.00px;top:586.90px;font-size:21.53px;line-height:21.53px;color:#1c2b34;letter-spacing:0.108px;-webkit-text-stroke:0.22px;">env:dev</span>
<span style="left:1082.44px;top:586.90px;font-size:21.53px;line-height:21.53px;color:#1c2b34;transform-origin:0 0;transform:scaleX(0.9448);-webkit-text-stroke:0.22px;">+3</span>
<span style="left:1378.36px;top:589.30px;font-size:21.53px;line-height:21.53px;color:#5c6873;letter-spacing:0.137px;-webkit-text-stroke:0.22px;">24d ago</span>
<span style="left:1518.75px;top:587.90px;font-size:23.18px;line-height:23.18px;color:#1c2b34;font-weight:700;letter-spacing:0.461px;transform-origin:0 0;transform:scaleX(1.0442);">1.5k req/s</span>
<span style="left:1936.44px;top:587.90px;font-size:23.18px;line-height:23.18px;color:#1c2b34;font-weight:700;letter-spacing:0.354px;transform-origin:0 0;transform:scaleX(1.0225);">48.6ms</span>
<span style="left:2218.43px;top:588.40px;font-size:21.53px;line-height:21.53px;color:#2d67ba;letter-spacing:0.427px;-webkit-text-stroke:0.22px;">N/A</span>
<span style="left:2611.49px;top:590.31px;font-size:18.22px;line-height:18.22px;color:#fff;font-weight:700;transform-origin:0 0;transform:scaleX(0.9407);">4 OK</span>
<span style="left:648.31px;top:655.70px;font-size:23.18px;line-height:23.18px;color:#1c2b34;font-weight:700;letter-spacing:0.389px;transform-origin:0 0;transform:scaleX(1.0347);">main-background-poller-serv...</span>
<span style="left:1030.93px;top:655.70px;font-size:21.53px;line-height:21.53px;color:#1c2b34;letter-spacing:0.056px;-webkit-text-stroke:0.22px;">env:dev</span>
<span style="left:1525.50px;top:655.70px;font-size:23.18px;line-height:23.18px;color:#1c2b34;font-weight:700;letter-spacing:0.464px;transform-origin:0 0;transform:scaleX(1.0421);">923 req/s</span>
<span style="left:1950.03px;top:655.70px;font-size:23.18px;line-height:23.18px;color:#1c2b34;font-weight:700;letter-spacing:0.577px;transform-origin:0 0;transform:scaleX(1.0298);">398µs</span>
<span style="left:2254.89px;top:657.20px;font-size:21.53px;line-height:21.53px;color:#2d67ba;transform-origin:0 0;transform:scaleX(0.9689);-webkit-text-stroke:0.22px;">13</span>
<span style="left:2611.10px;top:659.11px;font-size:18.22px;line-height:18.22px;color:#fff;font-weight:700;transform-origin:0 0;transform:scaleX(0.9503);">2 OK</span>
<span style="left:648.31px;top:724.50px;font-size:23.18px;line-height:23.18px;color:#1c2b34;font-weight:700;letter-spacing:0.408px;transform-origin:0 0;transform:scaleX(1.0337);">main-background-poller-query</span>
<span style="left:1026.93px;top:724.50px;font-size:21.53px;line-height:21.53px;color:#1c2b34;letter-spacing:0.056px;-webkit-text-stroke:0.22px;">env:dev</span>
<span style="left:1525.50px;top:724.50px;font-size:23.18px;line-height:23.18px;color:#1c2b34;font-weight:700;letter-spacing:0.464px;transform-origin:0 0;transform:scaleX(1.0421);">761 req/s</span>
<span style="left:1949.96px;top:724.50px;font-size:23.18px;line-height:23.18px;color:#1c2b34;font-weight:700;letter-spacing:0.584px;transform-origin:0 0;transform:scaleX(1.0304);">905µs</span>
<span style="left:2255.18px;top:725.00px;font-size:21.53px;line-height:21.53px;color:#2d67ba;-webkit-text-stroke:0.22px;">2</span>
<span style="left:2611.10px;top:726.91px;font-size:18.22px;line-height:18.22px;color:#fff;font-weight:700;transform-origin:0 0;transform:scaleX(0.9503);">2 OK</span>
<span style="left:649.39px;top:794.30px;font-size:23.18px;line-height:23.18px;color:#1c2b34;font-weight:700;letter-spacing:0.359px;transform-origin:0 0;transform:scaleX(1.0316);">trade-executor</span>
<span style="left:872.65px;top:794.30px;font-size:21.53px;line-height:21.53px;color:#1c2b34;letter-spacing:0.063px;-webkit-text-stroke:0.22px;">env:dev</span>
<span style="left:969.65px;top:794.30px;font-size:21.53px;line-height:21.53px;color:#1c2b34;transform-origin:0 0;transform:scaleX(0.9406);-webkit-text-stroke:0.22px;">+1</span>
<span style="left:1388.50px;top:794.70px;font-size:21.53px;line-height:21.53px;color:#1c2b34;letter-spacing:0.204px;transform-origin:0 0;transform:scaleX(1.0184);-webkit-text-stroke:0.22px;">2h ago</span>
<span style="left:1526.41px;top:794.30px;font-size:23.18px;line-height:23.18px;color:#1c2b34;font-weight:700;letter-spacing:0.428px;transform-origin:0 0;transform:scaleX(1.0381);">477 req/s</span>
<span style="left:1950.69px;top:794.30px;font-size:23.18px;line-height:23.18px;color:#1c2b34;font-weight:700;letter-spacing:0.488px;transform-origin:0 0;transform:scaleX(1.0259);">494µs</span>
<span style="left:2255.18px;top:793.80px;font-size:21.53px;line-height:21.53px;color:#2d67ba;-webkit-text-stroke:0.22px;">2</span>
<span style="left:2610.42px;top:795.71px;font-size:18.22px;line-height:18.22px;color:#fff;font-weight:700;transform-origin:0 0;transform:scaleX(0.9582);">5 OK</span>
<span style="left:648.64px;top:863.10px;font-size:23.18px;line-height:23.18px;color:#1c2b34;font-weight:700;letter-spacing:0.602px;transform-origin:0 0;transform:scaleX(1.0389);">emailer</span>
<span style="left:788.65px;top:862.10px;font-size:21.53px;line-height:21.53px;color:#1c2b34;letter-spacing:0.063px;-webkit-text-stroke:0.22px;">env:dev</span>
<span style="left:885.65px;top:862.10px;font-size:21.53px;line-height:21.53px;color:#1c2b34;transform-origin:0 0;transform:scaleX(0.9406);-webkit-text-stroke:0.22px;">+1</span>
<span style="left:1388.50px;top:863.50px;font-size:21.53px;line-height:21.53px;color:#1c2b34;letter-spacing:0.204px;transform-origin:0 0;transform:scaleX(1.0184);-webkit-text-stroke:0.22px;">2h ago</span>
<span style="left:1525.50px;top:863.10px;font-size:23.18px;line-height:23.18px;color:#1c2b34;font-weight:700;letter-spacing:0.464px;transform-origin:0 0;transform:scaleX(1.0421);">240 req/s</span>
<span style="left:1949.96px;top:863.10px;font-size:23.18px;line-height:23.18px;color:#1c2b34;font-weight:700;letter-spacing:0.584px;transform-origin:0 0;transform:scaleX(1.0304);">905µs</span>
<span style="left:2089.47px;top:864.51px;font-size:18.22px;line-height:18.22px;color:#3d8b45;font-weight:700;transform-origin:0 0;transform:scaleX(0.9582);">1 OK</span>
<span style="left:2255.18px;top:862.60px;font-size:21.53px;line-height:21.53px;color:#2d67ba;-webkit-text-stroke:0.22px;">2</span>
<span style="left:2610.99px;top:864.51px;font-size:18.22px;line-height:18.22px;color:#fff;font-weight:700;transform-origin:0 0;transform:scaleX(0.9471);">3 OK</span>
<span style="left:649.02px;top:931.90px;font-size:23.18px;line-height:23.18px;color:#1c2b34;font-weight:700;letter-spacing:0.409px;transform-origin:0 0;transform:scaleX(1.0351);">fraud-detector</span>
<span style="left:869.65px;top:930.90px;font-size:21.53px;line-height:21.53px;color:#1c2b34;letter-spacing:0.063px;-webkit-text-stroke:0.22px;">env:dev</span>
<span style="left:966.65px;top:930.90px;font-size:21.53px;line-height:21.53px;color:#1c2b34;transform-origin:0 0;transform:scaleX(0.9406);-webkit-text-stroke:0.22px;">+1</span>
<span style="left:1388.50px;top:933.30px;font-size:21.53px;line-height:21.53px;color:#1c2b34;letter-spacing:0.204px;transform-origin:0 0;transform:scaleX(1.0184);-webkit-text-stroke:0.22px;">2h ago</span>
<span style="left:1525.50px;top:931.90px;font-size:23.18px;line-height:23.18px;color:#1c2b34;font-weight:700;letter-spacing:0.464px;transform-origin:0 0;transform:scaleX(1.0421);">240 req/s</span>
<span style="left:1935.50px;top:931.90px;font-size:23.18px;line-height:23.18px;color:#1c2b34;font-weight:700;letter-spacing:0.396px;transform-origin:0 0;transform:scaleX(1.0275);">2.29ms</span>
<span style="left:2255.18px;top:932.40px;font-size:21.53px;line-height:21.53px;color:#2d67ba;-webkit-text-stroke:0.22px;">2</span>
<span style="left:2451.00px;top:932.40px;font-size:21.53px;line-height:21.53px;color:#2d67ba;-webkit-text-stroke:0.22px;">1</span>
<span style="left:2611.49px;top:934.31px;font-size:18.22px;line-height:18.22px;color:#fff;font-weight:700;transform-origin:0 0;transform:scaleX(0.9407);">4 OK</span>
<span style="left:648.37px;top:999.70px;font-size:23.18px;line-height:23.18px;color:#1c2b34;font-weight:700;letter-spacing:0.305px;transform-origin:0 0;transform:scaleX(1.0234);">balance-checker</span>
<span style="left:890.00px;top:999.70px;font-size:21.53px;line-height:21.53px;color:#1c2b34;letter-spacing:0.115px;-webkit-text-stroke:0.22px;">env:dev</span>
<span style="left:987.00px;top:999.70px;font-size:21.53px;line-height:21.53px;color:#1c2b34;transform-origin:0 0;transform:scaleX(0.9276);-webkit-text-stroke:0.22px;">+1</span>
<span style="left:1388.50px;top:1001.10px;font-size:21.53px;line-height:21.53px;color:#1c2b34;letter-spacing:0.204px;transform-origin:0 0;transform:scaleX(1.0184);-webkit-text-stroke:0.22px;">2h ago</span>
<span style="left:1525.50px;top:999.70px;font-size:23.18px;line-height:23.18px;color:#1c2b34;font-weight:700;letter-spacing:0.464px;transform-origin:0 0;transform:scaleX(1.0421);">239 req/s</span>
<span style="left:1935.50px;top:999.70px;font-size:23.18px;line-height:23.18px;color:#1c2b34;font-weight:700;letter-spacing:0.396px;transform-origin:0 0;transform:scaleX(1.0275);">5.06ms</span>
<span style="left:2255.18px;top:1001.20px;font-size:21.53px;line-height:21.53px;color:#2d67ba;-webkit-text-stroke:0.22px;">2</span>
<span style="left:2611.49px;top:1003.11px;font-size:18.22px;line-height:18.22px;color:#fff;font-weight:700;transform-origin:0 0;transform:scaleX(0.9407);">4 OK</span>
<span style="left:650.02px;top:1068.50px;font-size:23.18px;line-height:23.18px;color:#1c2b34;font-weight:700;letter-spacing:0.305px;">java-aws-sdk</span>
<span style="left:850.00px;top:1068.50px;font-size:21.53px;line-height:21.53px;color:#1c2b34;letter-spacing:0.271px;transform-origin:0 0;transform:scaleX(1.0188);-webkit-text-stroke:0.22px;">env:none</span>
<span style="left:1525.50px;top:1068.50px;font-size:23.18px;line-height:23.18px;color:#1c2b34;font-weight:700;letter-spacing:0.464px;transform-origin:0 0;transform:scaleX(1.0421);">236 req/s</span>
<span style="left:1804.03px;top:1064.70px;font-size:23.18px;line-height:23.18px;color:#1c2b34;font-weight:700;letter-spacing:0.425px;transform-origin:0 0;transform:scaleX(1.0219);">3.2%</span>
<span style="left:1943.71px;top:1068.50px;font-size:23.18px;line-height:23.18px;color:#1c2b34;font-weight:700;letter-spacing:0.473px;transform-origin:0 0;transform:scaleX(1.0215);">483ms</span>
<span style="left:2218.43px;top:1069.00px;font-size:21.53px;line-height:21.53px;color:#2d67ba;letter-spacing:0.427px;-webkit-text-stroke:0.22px;">N/A</span>
<span style="left:2610.99px;top:1070.91px;font-size:18.22px;line-height:18.22px;color:#fff;font-weight:700;transform-origin:0 0;transform:scaleX(0.9471);">3 OK</span>
<span style="left:648.84px;top:1138.30px;font-size:23.18px;line-height:23.18px;color:#1c2b34;font-weight:700;letter-spacing:0.431px;transform-origin:0 0;transform:scaleX(1.0353);">auth-dotnet-postgres</span>
<span style="left:950.00px;top:1138.30px;font-size:21.53px;line-height:21.53px;color:#1c2b34;letter-spacing:0.108px;-webkit-text-stroke:0.22px;">env:dev</span>
<span style="left:1046.44px;top:1138.30px;font-size:21.53px;line-height:21.53px;color:#1c2b34;transform-origin:0 0;transform:scaleX(0.9473);-webkit-text-stroke:0.22px;">+2</span>
<span style="left:1370.57px;top:1138.70px;font-size:21.53px;line-height:21.53px;color:#5c6873;letter-spacing:0.441px;-webkit-text-stroke:0.22px;">2mo ago</span>
<span style="left:1525.75px;top:1138.30px;font-size:23.18px;line-height:23.18px;color:#1c2b34;font-weight:700;letter-spacing:0.485px;transform-origin:0 0;transform:scaleX(1.0442);">161 req/s</span>
<span style="left:1783.51px;top:1134.30px;font-size:23.18px;line-height:23.18px;color:#1c2b34;-webkit-text-stroke:0.22px;">&lt;</span>
<span style="left:1803.50px;top:1133.50px;font-size:23.18px;line-height:23.18px;color:#1c2b34;font-weight:700;letter-spacing:0.279px;transform-origin:0 0;transform:scaleX(1.0233);">0.1%</span>
<span style="left:1935.50px;top:1138.30px;font-size:23.18px;line-height:23.18px;color:#1c2b34;font-weight:700;letter-spacing:0.396px;transform-origin:0 0;transform:scaleX(1.0275);">6.38ms</span>
<span style="left:2218.43px;top:1137.80px;font-size:21.53px;line-height:21.53px;color:#2d67ba;letter-spacing:0.427px;-webkit-text-stroke:0.22px;">N/A</span>
<span style="left:2598.50px;top:1139.71px;font-size:18.22px;line-height:18.22px;color:#fff;font-weight:700;transform-origin:0 0;transform:scaleX(0.8759);">2 ALERT</span>
<span style="left:648.84px;top:1207.10px;font-size:23.18px;line-height:23.18px;color:#1c2b34;font-weight:700;letter-spacing:0.581px;transform-origin:0 0;transform:scaleX(1.0460);">authenticator</span>
<span style="left:860.65px;top:1206.10px;font-size:21.53px;line-height:21.53px;color:#1c2b34;letter-spacing:0.063px;-webkit-text-stroke:0.22px;">env:dev</span>
<span style="left:957.65px;top:1206.10px;font-size:21.53px;line-height:21.53px;color:#1c2b34;transform-origin:0 0;transform:scaleX(0.9406);-webkit-text-stroke:0.22px;">+1</span>
<span style="left:1388.50px;top:1207.50px;font-size:21.53px;line-height:21.53px;color:#1c2b34;letter-spacing:0.204px;transform-origin:0 0;transform:scaleX(1.0184);-webkit-text-stroke:0.22px;">2h ago</span>
<span style="left:1525.75px;top:1207.10px;font-size:23.18px;line-height:23.18px;color:#1c2b34;font-weight:700;letter-spacing:0.485px;transform-origin:0 0;transform:scaleX(1.0442);">120 req/s</span>
<span style="left:1936.44px;top:1207.10px;font-size:23.18px;line-height:23.18px;color:#1c2b34;font-weight:700;letter-spacing:0.354px;transform-origin:0 0;transform:scaleX(1.0225);">4.54ms</span>
<span style="left:2255.18px;top:1206.60px;font-size:21.53px;line-height:21.53px;color:#2d67ba;-webkit-text-stroke:0.22px;">2</span>
<span style="left:2598.25px;top:1208.51px;font-size:18.22px;line-height:18.22px;color:#fff;font-weight:700;transform-origin:0 0;transform:scaleX(0.8835);">1 ALERT</span>
<span style="left:648.19px;top:1275.90px;font-size:23.18px;line-height:23.18px;color:#1c2b34;font-weight:700;letter-spacing:0.253px;transform-origin:0 0;transform:scaleX(1.0206);">shopist-support</span>
<span style="left:884.65px;top:1274.90px;font-size:21.53px;line-height:21.53px;color:#1c2b34;letter-spacing:0.063px;-webkit-text-stroke:0.22px;">env:dev</span>
<span style="left:981.65px;top:1274.90px;font-size:21.53px;line-height:21.53px;color:#1c2b34;transform-origin:0 0;transform:scaleX(0.9406);-webkit-text-stroke:0.22px;">+1</span>
<span style="left:1388.70px;top:1277.30px;font-size:21.53px;line-height:21.53px;color:#5c6873;letter-spacing:0.201px;transform-origin:0 0;transform:scaleX(1.0219);-webkit-text-stroke:0.22px;">1d ago</span>
<span style="left:1525.73px;top:1275.90px;font-size:23.18px;line-height:23.18px;color:#1c2b34;font-weight:700;letter-spacing:0.613px;transform-origin:0 0;transform:scaleX(1.0514);">116 req/s</span>
<span style="left:1804.01px;top:1272.10px;font-size:23.18px;line-height:23.18px;color:#1c2b34;font-weight:700;letter-spacing:0.412px;transform-origin:0 0;transform:scaleX(1.0220);">2.7%</span>
<span style="left:1943.75px;top:1275.90px;font-size:23.18px;line-height:23.18px;color:#1c2b34;font-weight:700;letter-spacing:0.639px;transform-origin:0 0;transform:scaleX(1.0437);">111ms</span>
<span style="left:2056.47px;top:1278.31px;font-size:18.22px;line-height:18.22px;color:#b3232f;font-weight:700;transform-origin:0 0;transform:scaleX(0.9046);">1 BREACHED</span>
<span style="left:2218.43px;top:1276.40px;font-size:21.53px;line-height:21.53px;color:#2d67ba;letter-spacing:0.427px;-webkit-text-stroke:0.22px;">N/A</span>
<span style="left:2451.00px;top:1276.40px;font-size:21.53px;line-height:21.53px;color:#2d67ba;-webkit-text-stroke:0.22px;">1</span>
<span style="left:2605.25px;top:1278.31px;font-size:18.22px;line-height:18.22px;color:#fff;font-weight:700;transform-origin:0 0;transform:scaleX(0.9725);">15 OK</span>
</div></body></html>
